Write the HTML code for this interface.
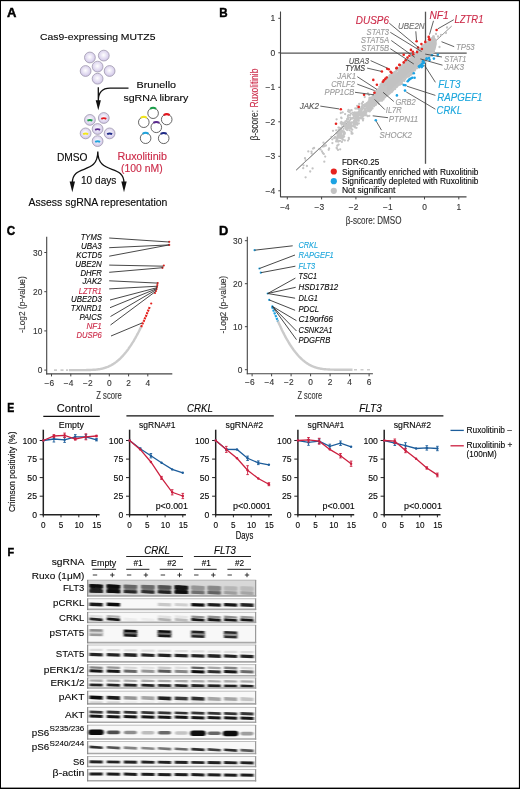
<!DOCTYPE html>
<html><head><meta charset="utf-8"><style>
html,body{margin:0;padding:0;background:#fff;}
body{width:520px;height:789px;overflow:hidden;}
svg{display:block;will-change:transform;}
text{font-family:"Liberation Sans",sans-serif;stroke-width:0.12px;}
</style></head><body>
<svg width="520" height="789" viewBox="0 0 520 789">
<defs>
<radialGradient id="cell" cx="0.48" cy="0.45" r="0.55"><stop offset="0" stop-color="#ffffff"/><stop offset="0.75" stop-color="#dcd4ee"/><stop offset="1" stop-color="#cbc0e4"/></radialGradient>
<filter id="b1" x="-30%" y="-150%" width="160%" height="400%"><feGaussianBlur stdDeviation="0.9 0.7"/></filter>
</defs>
<rect x="0" y="0" width="520" height="789" fill="#fff"/>
<text x="7.0" y="17.0" font-size="12.6" fill="#000" stroke="#000" style="stroke-width:0.45px" font-weight="bold" textLength="9.4" lengthAdjust="spacingAndGlyphs">A</text>
<text x="40.0" y="40.2" font-size="9.8" stroke="#222" textLength="115.5" lengthAdjust="spacingAndGlyphs">Cas9-expressing MUTZ5</text>
<circle cx="89.9" cy="57.5" r="5.4" fill="url(#cell)" stroke="#9f99ad" stroke-width="0.8"/>
<circle cx="103.8" cy="55.6" r="5.4" fill="url(#cell)" stroke="#9f99ad" stroke-width="0.8"/>
<circle cx="97.6" cy="66.6" r="5.4" fill="url(#cell)" stroke="#9f99ad" stroke-width="0.8"/>
<circle cx="85.6" cy="71" r="5.4" fill="url(#cell)" stroke="#9f99ad" stroke-width="0.8"/>
<circle cx="109.6" cy="71" r="5.4" fill="url(#cell)" stroke="#9f99ad" stroke-width="0.8"/>
<circle cx="97.6" cy="78.7" r="5.4" fill="url(#cell)" stroke="#9f99ad" stroke-width="0.8"/>
<circle cx="89.9" cy="119.9" r="5.4" fill="url(#cell)" stroke="#9f99ad" stroke-width="0.8"/>
<path d="M87.4,120.7 Q89.9,119.4 92.4,120.7" stroke="#1a9e48" stroke-width="1.9" fill="none" stroke-linecap="butt"/>
<circle cx="103.8" cy="118.0" r="5.4" fill="url(#cell)" stroke="#9f99ad" stroke-width="0.8"/>
<path d="M101.3,118.8 Q103.8,117.5 106.3,118.8" stroke="#e3161e" stroke-width="1.9" fill="none" stroke-linecap="butt"/>
<circle cx="97.6" cy="129.0" r="5.4" fill="url(#cell)" stroke="#9f99ad" stroke-width="0.8"/>
<path d="M95.1,129.8 Q97.6,128.5 100.1,129.8" stroke="#5b2a8e" stroke-width="1.9" fill="none" stroke-linecap="butt"/>
<circle cx="85.6" cy="133.4" r="5.4" fill="url(#cell)" stroke="#9f99ad" stroke-width="0.8"/>
<path d="M83.1,134.2 Q85.6,132.9 88.1,134.2" stroke="#f2e51a" stroke-width="1.9" fill="none" stroke-linecap="butt"/>
<circle cx="109.6" cy="133.4" r="5.4" fill="url(#cell)" stroke="#9f99ad" stroke-width="0.8"/>
<path d="M107.1,134.2 Q109.6,132.9 112.1,134.2" stroke="#1f2a88" stroke-width="1.9" fill="none" stroke-linecap="butt"/>
<circle cx="97.6" cy="141.1" r="5.4" fill="url(#cell)" stroke="#9f99ad" stroke-width="0.8"/>
<path d="M95.1,141.9 Q97.6,140.6 100.1,141.9" stroke="#1fa3dc" stroke-width="1.9" fill="none" stroke-linecap="butt"/>
<path d="M98.3,87.3 L98.3,102 M128.5,88.1 L110,88.1 C102,88.1 98.3,92 98.3,101" stroke="#111" stroke-width="1.3" fill="none"/>
<polygon points="95.7,100.2 100.9,100.2 98.3,110.3" fill="#111"/>
<text x="136.6" y="88.4" font-size="9.8" stroke="#222" textLength="39.5" lengthAdjust="spacingAndGlyphs">Brunello</text>
<text x="123.4" y="100.8" font-size="9.8" stroke="#222" textLength="65.0" lengthAdjust="spacingAndGlyphs">sgRNA library</text>
<circle cx="153.1" cy="113.2" r="5.3" fill="#fff" stroke="#4a4a4a" stroke-width="0.85"/>
<path d="M150.14,108.81 A5.3,5.3 0 0 1 156.06,108.81" stroke="#1a9e48" stroke-width="2" fill="none"/>
<circle cx="166.7" cy="119.5" r="5.3" fill="#fff" stroke="#4a4a4a" stroke-width="0.85"/>
<path d="M163.74,115.11 A5.3,5.3 0 0 1 169.66,115.11" stroke="#e3161e" stroke-width="2" fill="none"/>
<circle cx="143.8" cy="122.2" r="5.3" fill="#fff" stroke="#4a4a4a" stroke-width="0.85"/>
<path d="M140.84,117.81 A5.3,5.3 0 0 1 146.76,117.81" stroke="#f2e51a" stroke-width="2" fill="none"/>
<circle cx="156.3" cy="127.3" r="5.3" fill="#fff" stroke="#4a4a4a" stroke-width="0.85"/>
<path d="M153.34,122.91 A5.3,5.3 0 0 1 159.26,122.91" stroke="#5b2a8e" stroke-width="2" fill="none"/>
<circle cx="145.6" cy="138.2" r="5.3" fill="#fff" stroke="#4a4a4a" stroke-width="0.85"/>
<path d="M142.64,133.81 A5.3,5.3 0 0 1 148.56,133.81" stroke="#1fa3dc" stroke-width="2" fill="none"/>
<circle cx="163.7" cy="138.3" r="5.3" fill="#fff" stroke="#4a4a4a" stroke-width="0.85"/>
<path d="M160.74,133.91 A5.3,5.3 0 0 1 166.66,133.91" stroke="#1f2a88" stroke-width="2" fill="none"/>
<text x="56.9" y="161.2" font-size="10" stroke="#222" textLength="30.6" lengthAdjust="spacingAndGlyphs">DMSO</text>
<text x="117.4" y="159.6" font-size="10" fill="#cc2a48" stroke="#cc2a48" textLength="49.6" lengthAdjust="spacingAndGlyphs">Ruxolitinib</text>
<text x="121.0" y="171.5" font-size="10" fill="#cc2a48" stroke="#cc2a48" textLength="41.6" lengthAdjust="spacingAndGlyphs">(100 nM)</text>
<path d="M97.8,151.5 C97.8,176 72.3,163 72.3,183 M97.8,151.5 C97.8,176 124,163 124,183" stroke="#111" stroke-width="1.3" fill="none"/>
<polygon points="69.6,181.5 75.0,181.5 72.3,192.3" fill="#111"/>
<polygon points="121.3,181.5 126.7,181.5 124,192.3" fill="#111"/>
<text x="81.0" y="183.8" font-size="10" stroke="#222" textLength="35.4" lengthAdjust="spacingAndGlyphs">10 days</text>
<text x="28.6" y="205.9" font-size="10" stroke="#222" textLength="138.8" lengthAdjust="spacingAndGlyphs">Assess sgRNA representation</text>
<text x="219.2" y="16.5" font-size="12.6" fill="#000" stroke="#000" style="stroke-width:0.45px" font-weight="bold" textLength="8.4" lengthAdjust="spacingAndGlyphs">B</text>
<line x1="280.5" y1="53.1" x2="466.7" y2="53.1" stroke="#555" stroke-width="1.3"/>
<line x1="425.5" y1="11.7" x2="425.5" y2="163.8" stroke="#555" stroke-width="1.3"/>
<line x1="296.2" y1="170.1" x2="451.7" y2="26.1" stroke="#888" stroke-width="0.9"/>
<polygon points="368.0,102.6 369.6,101.3 371.2,98.6 372.8,96.1 374.4,94.8 376.0,91.9 377.6,89.9 379.2,88.8 380.8,87.3 382.4,84.9 384.0,82.3 385.6,81.5 387.2,79.6 388.8,77.9 390.4,77.2 392.0,75.9 393.6,74.5 395.2,73.0 396.8,72.5 398.4,70.8 400.0,68.6 401.6,67.1 403.2,66.4 404.8,65.0 406.4,63.7 408.0,60.7 409.6,60.6 411.2,59.3 412.8,56.3 414.4,56.0 416.0,53.4 417.6,53.3 419.2,50.4 420.8,48.9 422.4,48.6 424.0,46.7 425.6,44.6 427.2,43.0 428.8,41.5 430.4,40.2 432.0,39.9 434.5,37.6 436.6,39.5 436.8,44.0 435.5,49.5 434.0,52.0 432.0,53.6 430.4,54.3 428.8,56.0 427.2,57.8 425.6,59.5 424.0,60.5 422.4,61.6 420.8,62.9 419.2,64.6 417.6,67.0 416.0,67.8 414.4,69.1 412.8,71.2 411.2,72.3 409.6,74.0 408.0,75.2 406.4,77.9 404.8,78.9 403.2,80.6 401.6,81.7 400.0,83.7 398.4,86.0 396.8,88.1 395.2,88.5 393.6,90.7 392.0,92.3 390.4,94.2 388.8,95.1 387.2,96.4 385.6,97.7 384.0,99.1 382.4,100.0 380.8,101.4 379.2,100.9 377.6,103.0 376.0,103.2 374.4,104.9 372.8,105.4 371.2,106.5 369.6,107.3 368.0,108.4" fill="#c2c2c2"/>
<path d="M388.1 79.6h0M424.4 45.7h0M370.8 99.5h0M419.0 65.5h0M422.8 61.6h0M406.5 63.3h0M369.0 106.0h0M431.3 54.1h0M422.9 47.7h0M378.2 89.8h0M422.0 49.0h0M409.5 60.0h0M413.3 71.1h0M395.8 72.0h0M375.2 101.5h0M385.0 97.3h0M387.4 77.5h0M376.3 102.1h0M404.9 64.4h0M381.5 83.7h0M372.6 103.4h0M379.6 98.9h0M403.0 66.1h0M397.7 84.6h0M411.4 56.6h0M399.3 84.3h0M414.3 54.6h0M399.8 82.7h0M389.0 77.7h0M416.6 53.3h0M420.4 64.5h0M427.5 58.2h0M430.3 40.3h0M409.2 74.9h0M393.0 75.2h0M410.2 73.1h0M426.1 59.6h0M406.3 77.7h0M398.5 69.4h0M388.5 79.4h0M399.7 69.2h0M419.5 64.4h0M384.9 82.2h0M408.4 61.2h0M417.7 66.5h0M426.9 58.4h0M394.7 87.3h0M421.2 48.6h0M426.1 58.6h0M381.9 83.2h0M400.8 68.1h0M386.3 78.6h0M375.4 101.4h0M395.3 87.2h0M412.4 71.8h0M386.4 79.3h0M412.8 71.4h0M420.2 50.2h0M410.3 73.0h0M422.8 48.3h0M419.4 50.8h0M375.2 101.5h0M431.3 40.0h0M379.8 87.1h0M417.8 52.5h0M390.8 76.6h0M394.0 72.4h0M415.7 53.5h0M397.7 69.6h0M392.9 90.4h0M398.6 68.8h0M420.7 48.9h0M382.1 100.7h0M403.4 79.5h0M385.3 82.0h0M397.1 85.2h0M418.7 65.7h0M425.3 59.2h0M420.8 48.4h0M428.5 56.2h0M377.8 101.1h0M430.6 40.5h0M418.0 66.5h0M416.1 54.4h0M402.5 80.4h0M423.8 46.3h0M388.1 78.4h0M405.8 63.8h0M395.1 72.1h0M369.8 100.9h0M402.1 83.9h0M376.0 92.1h0M413.6 55.7h0M428.8 56.1h0M385.8 95.8h0M427.5 56.8h0M402.6 66.4h0M429.1 40.9h0M414.3 55.5h0M368.8 105.4h0M389.3 91.7h0M401.0 67.2h0M424.2 60.2h0M426.0 43.5h0M392.8 89.3h0M403.5 64.8h0M403.0 66.5h0M421.5 47.6h0M388.8 92.6h0M419.4 51.0h0M426.6 44.3h0M373.8 102.6h0M374.4 103.7h0M381.2 86.1h0M374.3 104.6h0M375.6 102.8h0M401.2 68.0h0M369.6 106.0h0M377.7 90.5h0M378.4 99.9h0M429.2 41.8h0M412.9 57.2h0M418.5 66.1h0M391.4 76.2h0M407.7 62.2h0M381.2 98.1h0M398.0 84.7h0M378.9 89.1h0M389.4 78.2h0M424.8 61.0h0M405.6 60.9h0M421.1 62.8h0M386.4 81.2h0M421.8 64.1h0M376.8 101.8h0M418.6 50.9h0M394.8 73.1h0M398.9 70.0h0M426.6 44.4h0M412.0 74.1h0M382.3 98.6h0M393.7 88.4h0M410.4 59.6h0M369.5 98.0h0M416.8 68.1h0M418.2 65.8h0M368.7 105.3h0M404.3 80.9h0M431.8 38.5h0M373.0 95.2h0M393.5 72.8h0M424.5 44.7h0M396.4 86.8h0M407.5 76.1h0M403.0 80.4h0M386.7 95.1h0M369.8 99.5h0M395.0 87.5h0M371.5 103.6h0M433.3 51.8h0M372.9 95.9h0M432.2 39.0h0M371.0 97.7h0M398.9 69.7h0M407.8 61.0h0M375.8 93.0h0M391.5 75.9h0M412.1 72.0h0M407.7 76.5h0M421.8 47.7h0M430.9 40.8h0M426.9 57.9h0M386.1 80.2h0M380.5 86.0h0M401.1 68.2h0M372.0 103.5h0M385.1 82.0h0M403.7 65.6h0M417.9 51.3h0M392.6 89.3h0M391.4 90.9h0M423.3 46.2h0M420.9 63.4h0M418.7 50.5h0M397.3 85.2h0M378.1 100.1h0M387.2 79.6h0M374.4 102.4h0M373.2 95.3h0M421.8 62.7h0M387.7 79.5h0M411.7 58.2h0M413.9 69.7h0M386.7 79.3h0M382.4 97.6h0M414.8 69.0h0M396.9 85.8h0M431.9 39.6h0M373.6 104.2h0M406.6 63.1h0M416.8 67.2h0M423.2 46.5h0M379.7 99.4h0M369.5 100.7h0M403.9 80.4h0M421.1 49.5h0M406.4 76.5h0M373.4 95.9h0M427.3 42.4h0M374.4 102.1h0M384.2 80.6h0M390.3 90.9h0M394.0 87.9h0M377.0 101.3h0M403.5 65.6h0M395.1 89.1h0M424.3 60.9h0M431.2 38.3h0M402.6 66.7h0M395.8 72.0h0M384.2 82.1h0M379.1 89.2h0M393.7 88.2h0M399.1 67.8h0M388.0 79.8h0M372.1 104.0h0M369.1 105.3h0M375.2 94.0h0M391.7 75.6h0M401.6 81.6h0M380.2 100.6h0M429.9 56.1h0M424.3 61.7h0M390.6 76.0h0M399.9 69.0h0M376.9 100.9h0M432.4 52.3h0M429.0 42.1h0M425.7 59.3h0M395.8 72.9h0M395.4 87.9h0M421.5 47.5h0M410.0 73.4h0M405.7 64.1h0M368.1 102.9h0M385.8 81.4h0M426.7 59.2h0M403.9 79.7h0M369.3 99.3h0M374.0 103.4h0M381.8 98.3h0M422.9 61.1h0M388.9 92.9h0M398.8 70.1h0M391.7 75.7h0M398.5 70.1h0M411.2 57.9h0M399.4 84.3h0M405.2 77.8h0M423.7 45.1h0M427.5 43.6h0M403.6 80.1h0M431.0 54.0h0M380.5 98.4h0M416.3 67.5h0M399.0 84.1h0M397.5 85.0h0M374.2 95.0h0M379.9 99.9h0M414.5 55.8h0M383.0 83.3h0M418.9 64.8h0M428.8 56.2h0M381.6 85.9h0M422.2 64.4h0M409.1 74.1h0M408.5 76.5h0M411.6 58.5h0M385.2 81.4h0M375.0 103.0h0M381.5 98.2h0M408.4 59.6h0M384.8 96.6h0M401.0 68.2h0M405.9 62.6h0M415.2 55.2h0M405.4 63.9h0M373.5 95.7h0M399.5 83.1h0M429.3 56.1h0M385.6 80.2h0M383.7 83.0h0M405.0 78.6h0M427.2 58.7h0M407.7 62.3h0M413.2 70.1h0M383.9 96.8h0M404.2 65.0h0M398.0 85.6h0M430.0 38.4h0M388.3 93.8h0M418.4 51.3h0M381.2 99.3h0M375.8 101.3h0M379.5 88.7h0M389.9 76.7h0M415.6 53.8h0M374.8 102.5h0M395.2 86.5h0M433.6 52.4h0M422.5 46.2h0M402.7 80.8h0M395.7 73.0h0M415.9 67.9h0M416.3 67.2h0M407.2 61.8h0M384.1 96.2h0M432.2 54.8h0M413.9 54.9h0M430.1 41.1h0M434.0 51.6h0M421.1 48.9h0M410.9 74.6h0M374.5 94.0h0M376.2 101.7h0M387.8 93.0h0M379.4 100.6h0M394.2 88.7h0M413.7 56.5h0M427.3 57.0h0M389.4 75.7h0M399.2 68.9h0M381.4 85.7h0M391.4 92.0h0M369.1 101.0h0M430.7 40.8h0M410.9 72.3h0M427.4 57.8h0M415.1 54.0h0M419.4 66.9h0M373.2 96.3h0M413.6 70.1h0M379.9 87.2h0M386.0 81.6h0M406.9 60.5h0M379.9 87.8h0M386.3 81.0h0M428.5 42.9h0M403.0 65.1h0M403.5 79.2h0M421.0 48.1h0M380.5 84.4h0M386.4 80.3h0M433.2 36.3h0M409.0 76.4h0M372.0 98.2h0M404.7 78.5h0M370.1 105.7h0M401.4 66.5h0M375.4 102.4h0M383.5 97.5h0M415.3 55.0h0M385.1 81.5h0M385.2 81.0h0M407.4 60.4h0M379.9 87.2h0M408.1 75.2h0M415.7 53.6h0M372.8 95.8h0M420.2 50.1h0M409.1 60.9h0M388.7 92.4h0M418.5 67.0h0M379.3 100.1h0M384.4 96.7h0M419.9 48.9h0M388.8 92.6h0M432.1 39.1h0M376.5 91.7h0M417.2 52.5h0M368.2 106.1h0M393.9 88.0h0M399.1 68.5h0M415.3 54.9h0M387.5 79.5h0M398.5 70.6h0M392.0 91.8h0M382.4 84.3h0M394.6 74.1h0M428.2 41.7h0M398.5 84.4h0M393.0 75.3h0M382.2 97.4h0M421.1 64.8h0M381.4 84.7h0M399.2 84.1h0M433.6 37.8h0M393.3 74.7h0M371.1 104.5h0M369.2 101.0h0M416.9 68.1h0M382.4 84.6h0M391.8 76.3h0M377.0 89.8h0M415.7 53.8h0M393.4 75.1h0M424.4 60.6h0M402.3 65.6h0M387.9 79.2h0M401.9 67.7h0M370.1 105.6h0M413.8 70.2h0M388.7 92.5h0M381.5 98.3h0M403.3 80.2h0M425.2 45.5h0M374.8 102.1h0M370.7 99.2h0M417.3 68.2h0M432.4 53.1h0M411.6 58.0h0M413.5 56.6h0M431.0 53.6h0M373.9 103.8h0M375.9 102.1h0M389.7 91.7h0M414.4 55.4h0M399.4 69.0h0M391.1 75.3h0M427.9 43.3h0M399.6 83.1h0M414.2 54.8h0M427.6 43.6h0M394.7 73.8h0M392.9 89.5h0M384.7 82.6h0M370.3 105.5h0M385.3 81.3h0M410.4 74.9h0M391.9 74.6h0M418.9 51.0h0M395.4 87.1h0M372.5 103.9h0M428.0 42.6h0M421.1 63.1h0M432.5 38.2h0M408.0 75.2h0M383.5 82.1h0M429.1 56.7h0M424.0 47.1h0M409.2 73.8h0M369.3 101.1h0M413.9 54.4h0M378.5 99.9h0M421.1 63.3h0M417.4 66.8h0M383.6 82.5h0M428.6 41.5h0M425.9 44.4h0M388.5 94.6h0M401.8 82.2h0M395.2 86.9h0M371.5 105.2h0M413.8 70.7h0M415.3 69.4h0M380.1 86.6h0M423.6 46.4h0M414.7 69.2h0M420.9 49.6h0M387.3 79.0h0M432.3 54.7h0M432.0 38.2h0M385.7 96.2h0M394.2 73.7h0M371.2 98.6h0M391.5 76.3h0M394.7 72.9h0M379.3 86.9h0M388.4 92.7h0M394.9 72.0h0M432.7 52.2h0M386.7 80.4h0M397.2 69.6h0M426.1 58.9h0M375.9 101.7h0M405.5 77.8h0M409.3 73.9h0M381.3 98.3h0M404.9 62.6h0M388.4 78.6h0M368.3 109.6h0M381.3 98.2h0M400.0 83.3h0M404.8 63.8h0M404.3 78.8h0M425.1 61.8h0M405.7 64.1h0M379.1 88.9h0M412.5 71.9h0M388.5 93.9h0M368.7 101.3h0M418.6 65.4h0M421.5 64.1h0M422.6 47.2h0M429.8 56.1h0M384.5 81.9h0M368.6 102.3h0M392.4 90.1h0M421.5 63.2h0M388.6 78.5h0M427.7 57.3h0M382.1 85.1h0M381.9 84.0h0M379.7 88.0h0M378.3 100.3h0M368.6 101.4h0M394.6 89.2h0M418.3 51.8h0M426.1 59.5h0M406.2 77.2h0M396.4 70.6h0M426.6 57.6h0M372.6 103.9h0M380.1 98.8h0M402.7 66.0h0M393.0 74.3h0M382.0 99.2h0M409.5 59.2h0M376.0 102.1h0M423.2 47.4h0M392.8 75.5h0M409.4 73.6h0M386.8 78.7h0M378.0 101.2h0M389.7 91.4h0M416.6 67.9h0M371.5 98.8h0M375.3 91.4h0M423.5 46.7h0M401.8 82.6h0M372.3 97.6h0M421.3 63.4h0M381.7 85.6h0M386.5 80.7h0M372.9 103.1h0M384.0 97.7h0M424.4 46.6h0M392.1 75.7h0M390.0 91.8h0M387.0 93.8h0M380.0 100.3h0M398.7 83.8h0M372.7 96.2h0M431.2 40.3h0M405.0 79.3h0M414.2 70.6h0M411.4 58.6h0M376.4 101.4h0M370.7 106.2h0M408.3 76.5h0M388.3 77.9h0M416.6 66.9h0M425.4 58.8h0M385.5 95.3h0M422.1 61.8h0M376.2 92.3h0M390.9 90.4h0M386.8 95.4h0M430.8 40.2h0M429.6 55.9h0M381.1 99.0h0M372.2 103.9h0M390.0 91.5h0M411.7 57.9h0M412.4 56.9h0M407.2 75.8h0M393.6 89.1h0M424.1 45.2h0M404.0 65.0h0M420.1 50.5h0M392.7 90.8h0M425.6 45.5h0M399.0 83.9h0M399.7 68.6h0M432.0 38.5h0M422.7 48.4h0M433.8 36.3h0M420.2 50.8h0M402.2 65.2h0M402.0 67.6h0M417.0 50.7h0M413.9 69.4h0M411.8 71.5h0M398.9 69.8h0M392.5 91.3h0M369.6 105.6h0M395.3 73.6h0M433.9 37.4h0M372.5 97.2h0M401.8 81.0h0M391.3 77.1h0M371.6 97.5h0M406.9 61.9h0M424.1 46.6h0M421.4 48.6h0M379.5 87.6h0M395.3 73.3h0M375.2 103.5h0M378.3 89.1h0M428.2 42.5h0M393.7 88.6h0M375.4 101.7h0M389.7 92.4h0M405.0 61.3h0M405.5 63.6h0M416.8 67.3h0M382.5 83.8h0M391.7 90.2h0M390.0 76.0h0M372.1 104.0h0M404.1 79.2h0M415.1 53.9h0M388.8 93.5h0M402.8 66.5h0M392.6 74.3h0M431.4 53.2h0M431.6 53.4h0M418.3 51.8h0M388.8 93.5h0M390.7 76.2h0M382.1 98.4h0M410.7 75.0h0M394.6 87.5h0M394.2 74.3h0M422.9 61.7h0M378.3 99.7h0M410.4 58.5h0M394.1 74.7h0M404.4 78.3h0M429.7 41.7h0M406.3 63.1h0M390.1 76.9h0M379.4 87.0h0M392.9 89.2h0M412.7 55.3h0M416.0 53.7h0M431.1 54.1h0M375.5 92.5h0M394.2 73.8h0M395.4 73.1h0M423.4 47.2h0M394.9 87.5h0M429.4 40.9h0M400.6 84.2h0M401.8 82.2h0M379.0 100.3h0M381.3 98.6h0M392.9 90.1h0M397.9 85.2h0M399.7 83.8h0M389.6 91.4h0M416.2 53.5h0M385.0 82.3h0M384.1 82.5h0M396.6 69.5h0M428.0 57.4h0M393.5 74.9h0M374.8 103.7h0M401.0 66.7h0M405.5 77.6h0M390.0 75.2h0M391.5 90.7h0M374.4 94.9h0M403.3 80.0h0M376.0 90.9h0M429.0 56.6h0M392.0 91.0h0M432.8 37.6h0M384.4 81.9h0M412.1 73.3h0M384.7 82.8h0M369.9 105.0h0M430.3 40.9h0M424.7 46.0h0M408.2 60.1h0M428.7 56.0h0M388.2 93.6h0M420.0 50.5h0M399.7 83.0h0M410.2 73.5h0M405.4 77.7h0M404.3 65.2h0M388.0 78.7h0M375.9 101.9h0M388.4 77.9h0M372.5 96.9h0M395.3 71.8h0M424.5 46.6h0M396.8 70.7h0M408.4 60.7h0M426.1 44.1h0M373.2 103.3h0M369.9 100.1h0M390.2 91.6h0M430.0 39.9h0M369.3 107.1h0M420.5 63.7h0M402.3 67.2h0M375.2 103.4h0M369.6 99.0h0M377.8 90.3h0M406.3 62.3h0M368.0 102.4h0M394.1 74.4h0M394.9 87.0h0M427.3 42.9h0M385.3 96.2h0M412.5 70.8h0M411.0 72.4h0M384.7 96.2h0M382.6 97.8h0M408.3 76.3h0M405.8 63.7h0M387.9 93.6h0M416.8 52.9h0M403.6 64.2h0M413.2 56.9h0M404.8 64.9h0M392.5 89.3h0M423.1 47.8h0M395.7 72.2h0M393.0 90.2h0M405.1 62.6h0M368.9 105.5h0M370.2 99.9h0M372.5 97.3h0M426.0 44.4h0M429.4 41.7h0M421.0 63.5h0M377.0 91.7h0M426.2 59.2h0M429.0 41.1h0M430.0 39.7h0M412.6 57.6h0M388.3 78.9h0M402.5 80.5h0M418.3 65.7h0M382.7 84.7h0M428.8 42.1h0M405.5 78.1h0M399.9 84.8h0M400.2 65.9h0M380.6 98.5h0M418.3 65.3h0M403.9 79.1h0M416.6 53.4h0M431.4 39.9h0M400.9 66.5h0M398.7 70.2h0M432.1 53.0h0M385.2 95.5h0M417.0 52.8h0M391.5 91.1h0M384.9 96.1h0M383.4 82.5h0M428.7 42.5h0M429.6 54.9h0M378.4 101.1h0M386.7 81.0h0M399.6 69.7h0M400.8 82.2h0M394.5 88.8h0M405.9 77.8h0M410.2 59.7h0M410.3 59.7h0M373.6 94.9h0M383.5 96.9h0M427.6 43.0h0M396.1 71.6h0M399.8 82.9h0M388.9 93.6h0M413.5 70.5h0M421.0 49.1h0M415.0 70.4h0M420.9 49.1h0M415.1 54.5h0M428.7 41.1h0M399.1 83.6h0M429.5 41.3h0M385.1 95.3h0M425.5 58.6h0M419.1 66.2h0M433.0 38.8h0M396.8 86.9h0M418.7 49.5h0M410.2 74.1h0M382.8 99.4h0M401.0 68.0h0M383.2 83.7h0M388.9 93.4h0M354.5 123.5h0M349.8 124.4h0M383.1 92.3h0M385.5 91.8h0M363.2 107.6h0M366.8 105.9h0M384.6 93.4h0M336.5 139.1h0M384.3 96.4h0M384.8 94.5h0M350.7 118.0h0M340.2 131.6h0M371.9 99.4h0M373.0 103.6h0M338.6 130.1h0M344.8 140.4h0M363.3 113.3h0M348.8 137.8h0M341.2 137.9h0M366.2 110.6h0M369.3 100.2h0M340.7 123.1h0M365.0 115.3h0M369.1 103.8h0M385.8 92.4h0M336.8 138.0h0M358.8 120.8h0M348.9 139.0h0M360.4 117.3h0M348.3 123.0h0M385.1 92.3h0M337.5 135.9h0M339.0 135.5h0M341.9 135.7h0M362.3 117.4h0M358.8 115.3h0M344.1 136.5h0M349.1 124.1h0M377.4 99.0h0M344.4 124.2h0M369.7 109.7h0M377.4 100.4h0M361.2 109.0h0M351.5 125.3h0M352.2 118.5h0M377.4 96.3h0M351.6 133.7h0M340.6 131.0h0M357.5 115.9h0M346.1 128.2h0M352.8 112.6h0M344.0 124.0h0M379.7 97.4h0M376.4 99.2h0M379.0 95.2h0M368.3 103.9h0M378.8 103.8h0M358.4 117.2h0M383.6 91.9h0M362.3 105.2h0M356.3 114.8h0M348.1 118.6h0M340.3 134.4h0M378.2 96.3h0M378.1 93.4h0M336.2 130.3h0M367.3 108.2h0M359.6 118.7h0M383.7 87.3h0M361.6 108.5h0M370.5 106.3h0M368.8 102.7h0M383.5 87.2h0M374.9 105.3h0M338.7 133.8h0M365.1 104.5h0M384.8 92.5h0M384.3 96.9h0M337.4 133.6h0M371.8 99.6h0M366.1 108.2h0M369.7 111.4h0M381.1 100.5h0M360.4 115.0h0M347.6 124.4h0M350.7 122.7h0M372.9 105.5h0M340.8 130.2h0M348.6 117.7h0M341.8 131.3h0M338.0 133.1h0M384.9 89.8h0M366.9 103.2h0M385.6 89.3h0M375.3 98.7h0M385.9 90.9h0M362.5 114.0h0M378.6 99.8h0M353.7 124.5h0M364.3 115.0h0M362.9 107.5h0M348.9 128.2h0M358.1 119.5h0M379.0 92.1h0M385.5 95.1h0M385.5 88.0h0M379.7 97.0h0M360.6 113.8h0M355.9 116.6h0M358.2 120.3h0M371.9 99.9h0M341.9 141.9h0M345.4 127.2h0M341.1 130.2h0M348.9 123.1h0M372.1 107.5h0M362.4 108.5h0M357.0 114.1h0M340.8 135.3h0M380.3 87.9h0M380.0 90.4h0M366.4 104.0h0M359.3 109.7h0M374.0 106.3h0M344.9 125.9h0M365.3 109.3h0M355.8 123.3h0M350.1 115.4h0M355.1 119.8h0M373.8 101.0h0M360.0 114.6h0M363.2 105.6h0M370.8 105.2h0M341.6 124.5h0M358.8 113.8h0M381.2 94.1h0M355.2 127.6h0M378.4 99.1h0M385.6 90.6h0M340.7 132.6h0M374.9 103.7h0M369.3 105.9h0M380.4 96.1h0M383.3 94.5h0M355.3 121.0h0M343.4 137.2h0M343.8 131.3h0M353.0 114.8h0M377.4 99.3h0M376.5 95.7h0M367.9 93.4h0M348.0 115.6h0M345.5 126.4h0M370.5 107.7h0M356.9 122.7h0M363.8 111.8h0M371.7 107.7h0M366.9 105.1h0M371.5 105.0h0M364.9 108.9h0M378.2 92.6h0M343.8 124.6h0M379.5 99.4h0M373.2 104.8h0M368.8 104.8h0M375.4 99.4h0M372.2 107.4h0M382.7 91.9h0M344.2 131.9h0M351.1 113.6h0M367.7 116.2h0M360.1 113.4h0M362.5 118.9h0M384.2 93.8h0M351.4 122.4h0M340.0 140.8h0M356.7 123.4h0M340.8 113.0h0M358.8 123.4h0M340.7 132.9h0M359.4 114.9h0M380.2 98.4h0M342.7 112.3h0M380.0 94.1h0M379.8 96.4h0M380.7 92.4h0M372.8 101.3h0M348.7 115.1h0M357.7 115.6h0M357.1 105.8h0M337.0 140.7h0M351.6 110.2h0M374.0 101.4h0M354.9 119.3h0M344.2 124.3h0M356.5 127.8h0M370.7 101.6h0M356.5 112.9h0M385.2 88.5h0M379.3 94.6h0M383.8 92.2h0M371.0 110.1h0M340.0 131.0h0M357.7 113.9h0M356.8 112.7h0M374.0 92.9h0M385.9 86.3h0M382.4 96.0h0M377.0 100.8h0M359.1 118.2h0M361.9 103.4h0M357.2 124.8h0M359.2 115.1h0M356.4 118.3h0M357.1 112.7h0M365.8 105.2h0M385.0 82.3h0M382.1 91.3h0M370.9 104.6h0M371.3 107.9h0M380.8 90.0h0M372.5 108.5h0M384.3 90.9h0M342.4 139.5h0M377.5 96.6h0M353.2 117.9h0M381.8 88.1h0M348.0 140.6h0M360.0 114.5h0M367.6 109.8h0M368.2 111.1h0M384.2 93.8h0M346.6 128.2h0M371.2 99.7h0M351.3 122.7h0M374.6 100.8h0M336.8 148.4h0M340.0 134.9h0M369.0 107.8h0M375.4 92.9h0M375.5 98.6h0M348.2 122.0h0M343.3 132.4h0M356.6 116.1h0M376.5 97.9h0M336.2 141.4h0M383.2 92.2h0M358.0 108.5h0M344.3 126.0h0M361.9 115.4h0M382.4 88.7h0M360.1 117.9h0M355.3 108.5h0M342.8 123.8h0M375.9 99.7h0M376.3 103.1h0M361.1 112.7h0M383.5 96.6h0M349.5 120.3h0M360.8 109.0h0M379.0 99.9h0M376.4 97.9h0M355.8 118.9h0M379.9 95.0h0M364.7 105.2h0M376.6 95.9h0M371.1 98.7h0M382.6 89.5h0M354.7 113.5h0M366.6 103.4h0M364.6 114.7h0M341.0 133.0h0M348.1 128.2h0M366.3 112.7h0M355.6 117.4h0M377.5 102.4h0M352.6 122.4h0M358.6 109.1h0M341.3 122.0h0M382.3 86.0h0M359.7 112.3h0M345.5 121.5h0M362.6 114.2h0M372.1 108.4h0M357.0 108.5h0M381.8 100.1h0M355.3 118.3h0M367.3 110.7h0M346.0 129.1h0M356.9 116.3h0M366.2 113.1h0M345.0 133.1h0M380.9 93.8h0M354.0 121.7h0M344.6 133.9h0M356.8 114.5h0M371.5 98.3h0M377.6 100.1h0M384.7 88.3h0M367.9 105.8h0M375.5 97.4h0M368.0 108.0h0M345.1 114.1h0M381.1 95.5h0M376.4 95.5h0M371.8 102.2h0M383.3 98.3h0M384.1 90.5h0M359.1 111.3h0M338.4 136.9h0M354.8 126.5h0M344.9 124.0h0M383.8 96.3h0M363.2 116.1h0M338.4 141.5h0M361.3 111.4h0M383.3 92.9h0M356.8 120.0h0M374.4 94.6h0M352.3 129.6h0M386.0 91.3h0M380.8 96.5h0M382.7 97.3h0M361.4 107.2h0M381.1 93.4h0M337.2 139.2h0M375.8 104.9h0M368.9 107.9h0M384.0 82.7h0M373.4 98.3h0M370.0 111.0h0M346.5 121.6h0M341.5 134.7h0M374.6 104.5h0M369.2 107.2h0M369.1 95.1h0M381.0 92.4h0M384.5 92.2h0M369.3 115.8h0M347.2 118.9h0M377.7 100.1h0M362.5 107.0h0M375.7 101.6h0M343.7 136.2h0M359.9 113.9h0M355.4 122.4h0M344.1 133.2h0M384.4 90.7h0M364.5 110.4h0M369.0 108.8h0M345.4 123.5h0M384.0 92.3h0M378.2 95.0h0M383.5 90.7h0M364.7 97.0h0M346.4 124.7h0M348.6 126.0h0M377.8 93.8h0M337.3 145.7h0M382.3 90.1h0M377.1 93.7h0M376.3 99.9h0M354.6 121.7h0M355.0 122.4h0M385.0 87.7h0M337.9 140.7h0M380.4 99.3h0M357.6 112.6h0M354.0 126.5h0M358.0 115.2h0M363.2 112.1h0M383.4 88.5h0M384.3 89.1h0M348.1 111.3h0M340.2 134.6h0M366.0 104.9h0M378.9 90.9h0M365.2 105.9h0M385.8 89.2h0M351.2 123.5h0M362.1 112.4h0M365.6 114.0h0M374.0 97.0h0M376.8 98.1h0M382.0 89.4h0M354.9 112.4h0M382.3 90.7h0M380.3 99.5h0M356.5 114.0h0M358.7 115.3h0M374.9 99.0h0M375.1 102.8h0M383.9 91.2h0M382.0 94.1h0M374.3 104.1h0M343.9 134.4h0M347.8 125.0h0M359.2 104.0h0M346.9 126.9h0M347.1 119.4h0M351.4 131.7h0M349.5 112.2h0M382.7 94.6h0M361.0 115.5h0M358.0 114.1h0M373.3 100.6h0M369.2 101.5h0M341.9 131.3h0M378.8 93.6h0M355.8 124.4h0M350.6 125.0h0M356.6 121.6h0M368.7 107.5h0M366.8 108.2h0M362.4 106.7h0M362.9 107.9h0M365.5 112.0h0M356.8 116.2h0M358.1 108.3h0M368.1 107.5h0M353.8 124.4h0M360.4 109.6h0M357.1 113.1h0M341.5 136.6h0M383.5 99.4h0M341.7 131.6h0M383.5 90.9h0M363.0 120.4h0M372.6 103.2h0M349.5 123.5h0M348.5 109.9h0M343.6 128.8h0M337.8 133.5h0M363.6 108.2h0M361.6 118.2h0M342.5 126.8h0M355.8 118.9h0M383.8 95.5h0M378.3 101.9h0M384.5 95.7h0M354.8 115.3h0M380.0 93.3h0M373.0 95.9h0M379.9 97.7h0M347.1 130.0h0M371.2 102.8h0M366.5 115.2h0M385.0 94.9h0M365.6 110.7h0M337.9 136.3h0M340.1 137.9h0M372.9 103.4h0M363.3 118.7h0M373.5 105.7h0M340.3 133.6h0M341.9 138.2h0M384.0 89.3h0M383.6 90.7h0M369.3 105.8h0M375.1 99.2h0M341.4 133.8h0M384.0 88.7h0M344.8 122.5h0M369.9 107.1h0M359.7 108.9h0M349.6 126.4h0M374.6 100.2h0M340.6 137.7h0M362.9 107.8h0M385.0 94.1h0M360.6 114.2h0M358.3 113.5h0M385.9 90.5h0M377.7 95.5h0M347.9 117.1h0M385.4 87.5h0M385.9 88.3h0M369.1 105.1h0M370.0 107.9h0M383.3 88.1h0M370.8 103.6h0M338.0 141.6h0M354.1 120.3h0M374.9 98.3h0M338.6 144.6h0M364.1 104.9h0M336.7 147.7h0M346.6 121.0h0M363.0 102.0h0M359.6 110.6h0M382.0 98.5h0M342.3 130.9h0M376.3 103.8h0M382.7 89.4h0M357.7 118.6h0M373.6 97.8h0M342.5 123.0h0M349.5 130.2h0M338.5 127.6h0M340.3 136.5h0M360.2 113.3h0M368.0 105.0h0M377.2 100.4h0M371.0 108.6h0M366.9 108.5h0M362.2 109.7h0M364.9 111.4h0M364.2 114.4h0M363.7 113.4h0M385.6 92.9h0M351.9 126.0h0M353.5 114.7h0M379.4 99.6h0M353.8 116.6h0M356.5 115.3h0M382.1 98.7h0M340.2 149.3h0M339.5 132.2h0M356.3 119.7h0M383.8 93.2h0M348.1 118.8h0M320.5 149.4h0M349.3 121.6h0M324.4 146.2h0M349.4 126.2h0M336.6 119.3h0M340.9 132.5h0M319.3 149.0h0M351.1 128.5h0M310.2 171.5h0M303.5 165.3h0M338.9 127.6h0M323.5 142.7h0M350.5 110.7h0M342.7 137.5h0M332.4 143.1h0M343.0 139.6h0M340.3 136.0h0M347.3 128.7h0M328.7 149.8h0M305.6 177.3h0M325.9 145.5h0M341.5 118.2h0M312.6 168.4h0M329.1 148.5h0M313.0 148.6h0M352.5 133.5h0M311.7 153.4h0M351.8 126.6h0M311.5 151.6h0M345.3 123.4h0M314.1 148.0h0M322.0 151.5h0M338.2 137.8h0M324.3 161.7h0M334.2 138.0h0M305.0 158.2h0M306.9 166.0h0M349.9 127.7h0M344.1 122.7h0M336.5 133.3h0M346.6 124.9h0M325.2 156.6h0M323.0 153.2h0M331.5 136.8h0M303.2 168.2h0M336.5 140.6h0M338.0 149.9h0M341.2 117.6h0M305.7 160.2h0M335.1 137.0h0M348.1 128.3h0M335.4 137.4h0M308.3 151.4h0M332.3 139.3h0M337.4 137.6h0M340.1 128.1h0M323.0 146.6h0M333.0 130.8h0M323.8 153.9h0M438.0 36.5h0M446.0 33.0h0M441.0 35.0h0M439.5 47.0h0M437.5 56.0h0M447.0 27.5h0M436.0 34.0h0" stroke="#c4c4c4" stroke-width="2.3" stroke-linecap="round" fill="none"/>
<line x1="296.2" y1="170.1" x2="344.0" y2="125.8" stroke="#8a8a8a" stroke-width="0.9"/>
<line x1="280.5" y1="11.5" x2="280.5" y2="197.2" stroke="#444" stroke-width="1.1"/>
<line x1="280.5" y1="196.9" x2="466.5" y2="196.9" stroke="#444" stroke-width="1.1"/>
<line x1="278.3" y1="18.3" x2="280.5" y2="18.3" stroke="#444" stroke-width="1"/>
<text x="275.2" y="21.3" font-size="8.5" text-anchor="end" fill="#333" stroke="#333">1</text>
<line x1="278.3" y1="52.8" x2="280.5" y2="52.8" stroke="#444" stroke-width="1"/>
<text x="275.2" y="55.8" font-size="8.5" text-anchor="end" fill="#333" stroke="#333">0</text>
<line x1="278.3" y1="87.3" x2="280.5" y2="87.3" stroke="#444" stroke-width="1"/>
<text x="275.2" y="90.3" font-size="8.5" text-anchor="end" fill="#333" stroke="#333">−1</text>
<line x1="278.3" y1="121.8" x2="280.5" y2="121.8" stroke="#444" stroke-width="1"/>
<text x="275.2" y="124.8" font-size="8.5" text-anchor="end" fill="#333" stroke="#333">−2</text>
<line x1="278.3" y1="156.3" x2="280.5" y2="156.3" stroke="#444" stroke-width="1"/>
<text x="275.2" y="159.3" font-size="8.5" text-anchor="end" fill="#333" stroke="#333">−3</text>
<line x1="278.3" y1="190.8" x2="280.5" y2="190.8" stroke="#444" stroke-width="1"/>
<text x="275.2" y="193.8" font-size="8.5" text-anchor="end" fill="#333" stroke="#333">−4</text>
<line x1="287.3" y1="196.9" x2="287.3" y2="199.4" stroke="#444" stroke-width="1"/>
<text x="285.0" y="209.7" font-size="8.4" text-anchor="middle" fill="#333" stroke="#333">−4</text>
<line x1="321.6" y1="196.9" x2="321.6" y2="199.4" stroke="#444" stroke-width="1"/>
<text x="319.3" y="209.7" font-size="8.4" text-anchor="middle" fill="#333" stroke="#333">−3</text>
<line x1="355.9" y1="196.9" x2="355.9" y2="199.4" stroke="#444" stroke-width="1"/>
<text x="353.6" y="209.7" font-size="8.4" text-anchor="middle" fill="#333" stroke="#333">−2</text>
<line x1="390.2" y1="196.9" x2="390.2" y2="199.4" stroke="#444" stroke-width="1"/>
<text x="387.9" y="209.7" font-size="8.4" text-anchor="middle" fill="#333" stroke="#333">−1</text>
<line x1="424.5" y1="196.9" x2="424.5" y2="199.4" stroke="#444" stroke-width="1"/>
<text x="424.5" y="209.7" font-size="8.4" text-anchor="middle" fill="#333" stroke="#333">0</text>
<line x1="458.8" y1="196.9" x2="458.8" y2="199.4" stroke="#444" stroke-width="1"/>
<text x="458.8" y="209.7" font-size="8.4" text-anchor="middle" fill="#333" stroke="#333">1</text>
<text x="345.7" y="224.4" font-size="10.3" fill="#333" stroke="#333" textLength="55.8" lengthAdjust="spacingAndGlyphs">β-score: DMSO</text>
<text x="258.2" y="140.6" font-size="10.4" fill="#333" stroke="#333" transform="rotate(-90 258.2 140.6)" textLength="72" lengthAdjust="spacingAndGlyphs">β-score: <tspan fill="#cc2a48" stroke="#cc2a48">Ruxolitinib</tspan></text>
<circle cx="333.8" cy="171.5" r="3.1" fill="#e5231f"/>
<circle cx="333.8" cy="181.2" r="3.1" fill="#1ca3e3"/>
<circle cx="333.8" cy="190.8" r="3.1" fill="#c3c3c3"/>
<text x="341.9" y="164.5" font-size="8.7" stroke="#222" textLength="37.3" lengthAdjust="spacingAndGlyphs">FDR&lt;0.25</text>
<text x="341.9" y="174.6" font-size="8.7" stroke="#222" textLength="136.6" lengthAdjust="spacingAndGlyphs">Significantly enriched with Ruxolitinib</text>
<text x="341.9" y="183.8" font-size="8.7" stroke="#222" textLength="136.6" lengthAdjust="spacingAndGlyphs">Significantly depleted with Ruxolitinib</text>
<text x="341.9" y="193.0" font-size="8.7" stroke="#222" textLength="53.6" lengthAdjust="spacingAndGlyphs">Not significant</text>
<circle cx="428.7" cy="36.9" r="1.3" fill="#e5231f"/>
<circle cx="429.1" cy="39.3" r="1.3" fill="#e5231f"/>
<circle cx="429.8" cy="39.8" r="1.3" fill="#e5231f"/>
<circle cx="436.6" cy="30.0" r="1.3" fill="#e5231f"/>
<circle cx="425.3" cy="41.9" r="1.3" fill="#e5231f"/>
<circle cx="421.4" cy="44.1" r="1.3" fill="#e5231f"/>
<circle cx="416.6" cy="41.3" r="1.3" fill="#e5231f"/>
<circle cx="418.1" cy="47.5" r="1.3" fill="#e5231f"/>
<circle cx="421.9" cy="49.0" r="1.3" fill="#e5231f"/>
<circle cx="417.1" cy="52.1" r="1.3" fill="#e5231f"/>
<circle cx="410.9" cy="49.9" r="1.3" fill="#e5231f"/>
<circle cx="412.8" cy="51.8" r="1.3" fill="#e5231f"/>
<circle cx="413.3" cy="54.2" r="1.3" fill="#e5231f"/>
<circle cx="409.4" cy="55.7" r="1.3" fill="#e5231f"/>
<circle cx="407.5" cy="57.6" r="1.3" fill="#e5231f"/>
<circle cx="403.7" cy="54.7" r="1.3" fill="#e5231f"/>
<circle cx="405.6" cy="60.2" r="1.3" fill="#e5231f"/>
<circle cx="403.7" cy="62.4" r="1.3" fill="#e5231f"/>
<circle cx="399.3" cy="64.8" r="1.3" fill="#e5231f"/>
<circle cx="396.4" cy="68.2" r="1.3" fill="#e5231f"/>
<circle cx="381.9" cy="71.5" r="1.3" fill="#e5231f"/>
<circle cx="387.2" cy="68.7" r="1.3" fill="#e5231f"/>
<circle cx="388.7" cy="69.3" r="1.3" fill="#e5231f"/>
<circle cx="390.6" cy="71.7" r="1.3" fill="#e5231f"/>
<circle cx="391.5" cy="72.7" r="1.3" fill="#e5231f"/>
<circle cx="396.8" cy="67.9" r="1.3" fill="#e5231f"/>
<circle cx="399.7" cy="65.0" r="1.3" fill="#e5231f"/>
<circle cx="373.3" cy="79.9" r="1.3" fill="#e5231f"/>
<circle cx="386.7" cy="77.5" r="1.3" fill="#e5231f"/>
<circle cx="385.3" cy="78.9" r="1.3" fill="#e5231f"/>
<circle cx="383.8" cy="80.4" r="1.3" fill="#e5231f"/>
<circle cx="382.9" cy="81.8" r="1.3" fill="#e5231f"/>
<circle cx="376.9" cy="84.7" r="1.3" fill="#e5231f"/>
<circle cx="374.5" cy="92.7" r="1.3" fill="#e5231f"/>
<circle cx="364.1" cy="94.8" r="1.3" fill="#e5231f"/>
<circle cx="358.7" cy="106.9" r="1.3" fill="#e5231f"/>
<circle cx="340.8" cy="109.3" r="1.3" fill="#e5231f"/>
<circle cx="336.0" cy="123.8" r="1.3" fill="#e5231f"/>
<circle cx="432.0" cy="55.2" r="1.3" fill="#1ca3e3"/>
<circle cx="437.8" cy="54.7" r="1.3" fill="#1ca3e3"/>
<circle cx="433.9" cy="58.6" r="1.3" fill="#1ca3e3"/>
<circle cx="426.7" cy="58.6" r="1.3" fill="#1ca3e3"/>
<circle cx="429.1" cy="58.1" r="1.3" fill="#1ca3e3"/>
<circle cx="429.6" cy="60.0" r="1.3" fill="#1ca3e3"/>
<circle cx="422.9" cy="61.4" r="1.3" fill="#1ca3e3"/>
<circle cx="423.8" cy="62.9" r="1.3" fill="#1ca3e3"/>
<circle cx="421.9" cy="63.8" r="1.3" fill="#1ca3e3"/>
<circle cx="421.0" cy="65.8" r="1.3" fill="#1ca3e3"/>
<circle cx="419.0" cy="66.3" r="1.3" fill="#1ca3e3"/>
<circle cx="422.9" cy="65.8" r="1.3" fill="#1ca3e3"/>
<circle cx="420.4" cy="65.2" r="1.3" fill="#1ca3e3"/>
<circle cx="419.4" cy="67.1" r="1.3" fill="#1ca3e3"/>
<circle cx="421.8" cy="67.1" r="1.3" fill="#1ca3e3"/>
<circle cx="426.6" cy="58.9" r="1.3" fill="#1ca3e3"/>
<circle cx="423.3" cy="61.3" r="1.3" fill="#1ca3e3"/>
<circle cx="413.8" cy="73.2" r="1.3" fill="#1ca3e3"/>
<circle cx="414.6" cy="77.7" r="1.3" fill="#1ca3e3"/>
<circle cx="412.3" cy="77.7" r="1.3" fill="#1ca3e3"/>
<circle cx="410.8" cy="78.5" r="1.3" fill="#1ca3e3"/>
<circle cx="409.6" cy="79.2" r="1.3" fill="#1ca3e3"/>
<circle cx="408.8" cy="80.0" r="1.3" fill="#1ca3e3"/>
<circle cx="407.7" cy="81.2" r="1.3" fill="#1ca3e3"/>
<circle cx="403.8" cy="85.0" r="1.3" fill="#1ca3e3"/>
<circle cx="405.4" cy="85.2" r="1.3" fill="#1ca3e3"/>
<circle cx="405.0" cy="90.6" r="1.3" fill="#1ca3e3"/>
<circle cx="396.9" cy="95.4" r="1.3" fill="#1ca3e3"/>
<circle cx="375.8" cy="120.2" r="1.3" fill="#1ca3e3"/>
<text x="355.8" y="24.2" font-size="10.2" fill="#cc2a48" stroke="#cc2a48" font-style="italic" textLength="33.2" lengthAdjust="spacingAndGlyphs">DUSP6</text>
<text x="429.5" y="18.8" font-size="10.2" fill="#cc2a48" stroke="#cc2a48" font-style="italic" textLength="19.2" lengthAdjust="spacingAndGlyphs">NF1</text>
<text x="454.6" y="23.4" font-size="10.5" fill="#cc2a48" stroke="#cc2a48" font-style="italic" textLength="28.8" lengthAdjust="spacingAndGlyphs">LZTR1</text>
<text x="398.0" y="29.0" font-size="8.5" fill="#707070" stroke="#707070" font-style="italic" textLength="26.6" lengthAdjust="spacingAndGlyphs">UBE2N</text>
<text x="366.6" y="35.0" font-size="8.5" fill="#9a9a9a" stroke="#9a9a9a" font-style="italic" textLength="22.5" lengthAdjust="spacingAndGlyphs">STAT3</text>
<text x="360.8" y="42.7" font-size="8.5" fill="#9a9a9a" stroke="#9a9a9a" font-style="italic" textLength="28.3" lengthAdjust="spacingAndGlyphs">STAT5A</text>
<text x="361.2" y="50.7" font-size="8.5" fill="#9a9a9a" stroke="#9a9a9a" font-style="italic" textLength="27.9" lengthAdjust="spacingAndGlyphs">STAT5B</text>
<text x="348.7" y="63.5" font-size="8.5" fill="#555" stroke="#555" font-style="italic" textLength="20.4" lengthAdjust="spacingAndGlyphs">UBA3</text>
<text x="345.2" y="70.6" font-size="8.5" fill="#333" stroke="#333" font-style="italic" textLength="19.9" lengthAdjust="spacingAndGlyphs">TYMS</text>
<text x="337.3" y="78.5" font-size="8.5" fill="#9a9a9a" stroke="#9a9a9a" font-style="italic" textLength="18.8" lengthAdjust="spacingAndGlyphs">JAK1</text>
<text x="331.2" y="86.6" font-size="8.5" fill="#9a9a9a" stroke="#9a9a9a" font-style="italic" textLength="23.6" lengthAdjust="spacingAndGlyphs">CRLF2</text>
<text x="324.6" y="95.3" font-size="8.5" fill="#9a9a9a" stroke="#9a9a9a" font-style="italic" textLength="29.8" lengthAdjust="spacingAndGlyphs">PPP1CB</text>
<text x="299.7" y="108.7" font-size="8.7" fill="#555" stroke="#555" font-style="italic" textLength="19.2" lengthAdjust="spacingAndGlyphs">JAK2</text>
<text x="395.4" y="105.2" font-size="8.5" fill="#9a9a9a" stroke="#9a9a9a" font-style="italic" textLength="20.4" lengthAdjust="spacingAndGlyphs">GRB2</text>
<text x="385.8" y="112.9" font-size="8.5" fill="#9a9a9a" stroke="#9a9a9a" font-style="italic" textLength="16.0" lengthAdjust="spacingAndGlyphs">IL7R</text>
<text x="388.7" y="121.5" font-size="8.5" fill="#9a9a9a" stroke="#9a9a9a" font-style="italic" textLength="29.6" lengthAdjust="spacingAndGlyphs">PTPN11</text>
<text x="379.6" y="137.5" font-size="8.5" fill="#9a9a9a" stroke="#9a9a9a" font-style="italic" textLength="32.4" lengthAdjust="spacingAndGlyphs">SHOCK2</text>
<text x="456.0" y="49.8" font-size="8.5" fill="#9a9a9a" stroke="#9a9a9a" font-style="italic" textLength="18.6" lengthAdjust="spacingAndGlyphs">TP53</text>
<text x="444.3" y="61.5" font-size="8.5" fill="#9a9a9a" stroke="#9a9a9a" font-style="italic" textLength="22.1" lengthAdjust="spacingAndGlyphs">STAT1</text>
<text x="444.3" y="70.3" font-size="8.5" fill="#9a9a9a" stroke="#9a9a9a" font-style="italic" textLength="19.7" lengthAdjust="spacingAndGlyphs">JAK3</text>
<text x="438.2" y="88.2" font-size="10.1" fill="#1ba6dc" stroke="#1ba6dc" font-style="italic" textLength="22.3" lengthAdjust="spacingAndGlyphs">FLT3</text>
<text x="437.2" y="101.1" font-size="10.1" fill="#1ba6dc" stroke="#1ba6dc" font-style="italic" textLength="45.3" lengthAdjust="spacingAndGlyphs">RAPGEF1</text>
<text x="436.6" y="113.8" font-size="10.1" fill="#1ba6dc" stroke="#1ba6dc" font-style="italic" textLength="25.4" lengthAdjust="spacingAndGlyphs">CRKL</text>
<line x1="389.3" y1="23.2" x2="418.7" y2="47.7" stroke="#3a3a3a" stroke-width="0.8"/>
<line x1="390.3" y1="32.3" x2="421.5" y2="51.5" stroke="#3a3a3a" stroke-width="0.8"/>
<line x1="391.3" y1="40.5" x2="414.8" y2="57.3" stroke="#3a3a3a" stroke-width="0.8"/>
<line x1="390.3" y1="48.7" x2="413.8" y2="64.0" stroke="#3a3a3a" stroke-width="0.8"/>
<line x1="415.8" y1="31.3" x2="416.5" y2="40.0" stroke="#3a3a3a" stroke-width="0.8"/>
<line x1="433.5" y1="20.8" x2="429.5" y2="34.6" stroke="#3a3a3a" stroke-width="0.8"/>
<line x1="453.8" y1="19.7" x2="437.7" y2="28.9" stroke="#3a3a3a" stroke-width="0.8"/>
<line x1="370.6" y1="60.6" x2="387.3" y2="68.1" stroke="#3a3a3a" stroke-width="0.8"/>
<line x1="367.1" y1="68.1" x2="381.0" y2="71.3" stroke="#3a3a3a" stroke-width="0.8"/>
<line x1="357.3" y1="76.7" x2="376.9" y2="89.4" stroke="#3a3a3a" stroke-width="0.8"/>
<line x1="357.3" y1="84.2" x2="374.6" y2="90.6" stroke="#3a3a3a" stroke-width="0.8"/>
<line x1="355.0" y1="92.3" x2="374.0" y2="94.8" stroke="#3a3a3a" stroke-width="0.8"/>
<line x1="320.3" y1="106.1" x2="339.0" y2="108.9" stroke="#3a3a3a" stroke-width="0.8"/>
<line x1="393.8" y1="101.5" x2="383.1" y2="92.3" stroke="#3a3a3a" stroke-width="0.8"/>
<line x1="384.8" y1="109.6" x2="374.6" y2="99.4" stroke="#3a3a3a" stroke-width="0.8"/>
<line x1="388.0" y1="117.7" x2="372.7" y2="115.8" stroke="#3a3a3a" stroke-width="0.8"/>
<line x1="381.5" y1="130.2" x2="376.2" y2="121.2" stroke="#3a3a3a" stroke-width="0.8"/>
<line x1="454.2" y1="46.7" x2="441.5" y2="41.7" stroke="#3a3a3a" stroke-width="0.8"/>
<line x1="442.0" y1="57.0" x2="425.2" y2="54.1" stroke="#3a3a3a" stroke-width="0.8"/>
<line x1="442.5" y1="65.2" x2="420.4" y2="58.9" stroke="#3a3a3a" stroke-width="0.8"/>
<line x1="435.4" y1="82.3" x2="424.6" y2="65.4" stroke="#3a3a3a" stroke-width="0.8"/>
<line x1="435.4" y1="95.4" x2="406.9" y2="86.2" stroke="#3a3a3a" stroke-width="0.8"/>
<line x1="435.4" y1="109.2" x2="406.2" y2="91.9" stroke="#3a3a3a" stroke-width="0.8"/>
<text x="6.7" y="234.5" font-size="12.6" fill="#000" stroke="#000" style="stroke-width:0.45px" font-weight="bold" textLength="8.4" lengthAdjust="spacingAndGlyphs">C</text>
<line x1="46.7" y1="236.8" x2="46.7" y2="374.4" stroke="#444" stroke-width="1.1"/>
<line x1="46.2" y1="373.9" x2="172.3" y2="373.9" stroke="#444" stroke-width="1.1"/>
<line x1="44.3" y1="370.1" x2="46.7" y2="370.1" stroke="#444" stroke-width="1"/>
<text x="42.4" y="373.1" font-size="8.4" text-anchor="end" fill="#333" stroke="#333">0</text>
<line x1="44.3" y1="330.9" x2="46.7" y2="330.9" stroke="#444" stroke-width="1"/>
<text x="42.4" y="333.9" font-size="8.4" text-anchor="end" fill="#333" stroke="#333">10</text>
<line x1="44.3" y1="291.7" x2="46.7" y2="291.7" stroke="#444" stroke-width="1"/>
<text x="42.4" y="294.7" font-size="8.4" text-anchor="end" fill="#333" stroke="#333">20</text>
<line x1="44.3" y1="252.5" x2="46.7" y2="252.5" stroke="#444" stroke-width="1"/>
<text x="42.4" y="255.5" font-size="8.4" text-anchor="end" fill="#333" stroke="#333">30</text>
<line x1="51.5" y1="373.9" x2="51.5" y2="376.4" stroke="#444" stroke-width="1"/>
<text x="49.3" y="385.6" font-size="8.4" text-anchor="middle" fill="#333" stroke="#333">−6</text>
<line x1="70.8" y1="373.9" x2="70.8" y2="376.4" stroke="#444" stroke-width="1"/>
<text x="68.6" y="385.6" font-size="8.4" text-anchor="middle" fill="#333" stroke="#333">−4</text>
<line x1="90.0" y1="373.9" x2="90.0" y2="376.4" stroke="#444" stroke-width="1"/>
<text x="87.8" y="385.6" font-size="8.4" text-anchor="middle" fill="#333" stroke="#333">−2</text>
<line x1="109.3" y1="373.9" x2="109.3" y2="376.4" stroke="#444" stroke-width="1"/>
<text x="109.3" y="385.6" font-size="8.4" text-anchor="middle" fill="#333" stroke="#333">0</text>
<line x1="128.6" y1="373.9" x2="128.6" y2="376.4" stroke="#444" stroke-width="1"/>
<text x="128.6" y="385.6" font-size="8.4" text-anchor="middle" fill="#333" stroke="#333">2</text>
<line x1="147.8" y1="373.9" x2="147.8" y2="376.4" stroke="#444" stroke-width="1"/>
<text x="147.8" y="385.6" font-size="8.4" text-anchor="middle" fill="#333" stroke="#333">4</text>
<text x="96.3" y="399.3" font-size="10.8" fill="#333" stroke="#333" textLength="25.5" lengthAdjust="spacingAndGlyphs">Z score</text>
<text x="25.3" y="304.5" font-size="9.6" text-anchor="middle" fill="#333" stroke="#333" textLength="56.5" lengthAdjust="spacingAndGlyphs" transform="rotate(-90 25.3 304.5)">-Log2 (p-value)</text>
<path d="M68.9,370.1 L69.3,370.1 L69.8,370.1 L70.3,370.1 L70.8,370.1 L71.3,370.1 L71.7,370.1 L72.2,370.1 L72.7,370.1 L73.2,370.1 L73.7,370.1 L74.2,370.1 L74.6,370.1 L75.1,370.1 L75.6,370.1 L76.1,370.1 L76.6,370.1 L77.0,370.1 L77.5,370.1 L78.0,370.1 L78.5,370.1 L79.0,370.1 L79.4,370.1 L79.9,370.1 L80.4,370.1 L80.9,370.1 L81.4,370.1 L81.9,370.1 L82.3,370.1 L82.8,370.1 L83.3,370.1 L83.8,370.1 L84.3,370.1 L84.7,370.1 L85.2,370.1 L85.7,370.1 L86.2,370.1 L86.7,370.0 L87.2,370.0 L87.6,370.0 L88.1,370.0 L88.6,370.0 L89.1,370.0 L89.6,370.0 L90.0,370.0 L90.5,370.0 L91.0,369.9 L91.5,369.9 L92.0,369.9 L92.4,369.9 L92.9,369.8 L93.4,369.8 L93.9,369.8 L94.4,369.7 L94.9,369.7 L95.3,369.7 L95.8,369.6 L96.3,369.6 L96.8,369.5 L97.3,369.5 L97.7,369.4 L98.2,369.3 L98.7,369.3 L99.2,369.2 L99.7,369.1 L100.2,369.0 L100.6,368.9 L101.1,368.9 L101.6,368.8 L102.1,368.6 L102.6,368.5 L103.0,368.4 L103.5,368.3 L104.0,368.2 L104.5,368.0 L105.0,367.9 L105.4,367.7 L105.9,367.5 L106.4,367.4 L106.9,367.2 L107.4,367.0 L107.9,366.8 L108.3,366.6 L108.8,366.4 L109.3,366.2 L109.8,365.9 L110.3,365.7 L110.7,365.5 L111.2,365.2 L111.7,364.9 L112.2,364.7 L112.7,364.4 L113.2,364.1 L113.6,363.8 L114.1,363.4 L114.6,363.1 L115.1,362.8 L115.6,362.4 L116.0,362.1 L116.5,361.7 L117.0,361.3 L117.5,360.9 L118.0,360.5 L118.4,360.1 L118.9,359.7 L119.4,359.3 L119.9,358.8 L120.4,358.3 L120.9,357.9 L121.3,357.4 L121.8,356.9 L122.3,356.4 L122.8,355.9 L123.3,355.3 L123.7,354.8 L124.2,354.2 L124.7,353.7 L125.2,353.1 L125.7,352.5 L126.2,351.9 L126.6,351.3 L127.1,350.7 L127.6,350.0 L128.1,349.4 L128.6,348.7 L129.0,348.0 L129.5,347.3 L130.0,346.6 L130.5,345.9 L131.0,345.2 L131.4,344.5 L131.9,343.7 L132.4,342.9 L132.9,342.2 L133.4,341.4 L133.9,340.6 L134.3,339.7 L134.8,338.9 L135.3,338.1 L135.8,337.2 L136.3,336.3 L136.7,335.5 L137.2,334.6 L137.7,333.7 L138.2,332.7 L138.7,331.8 L139.2,330.8 L139.6,329.9 L140.1,328.9 L140.6,327.9 L141.1,326.9 L141.6,325.9" stroke="#cbcbcb" stroke-width="2.4" fill="none"/>
<path d="M54,370.1 h3 M60.5,370.1 h3 M66,370.1 h2" stroke="#cbcbcb" stroke-width="1.6" fill="none"/>
<path d="M141.1,326.9 L141.6,325.9 L142.0,324.9 L142.5,323.8 L143.0,322.8 L143.5,321.7 L144.0,320.6 L144.4,319.5 L144.9,318.4 L145.4,317.3 L145.9,316.2 L146.4,315.0 L146.9,313.9 L147.3,312.7 L147.8,311.5 L148.3,310.3 L148.8,309.1 L149.3,307.9 L149.7,306.6" stroke="#e5231f" stroke-width="2.2" stroke-dasharray="2,0.8" fill="none"/>
<circle cx="169.2" cy="241.8" r="1.1" fill="#e5231f"/>
<circle cx="169.2" cy="244.9" r="1.1" fill="#e5231f"/>
<circle cx="163.8" cy="265.5" r="1.1" fill="#e5231f"/>
<circle cx="162.5" cy="267.8" r="1.1" fill="#e5231f"/>
<circle cx="157.7" cy="283.0" r="1.1" fill="#e5231f"/>
<circle cx="157.3" cy="285.0" r="1.1" fill="#e5231f"/>
<circle cx="157.0" cy="287.0" r="1.1" fill="#e5231f"/>
<circle cx="156.6" cy="289.0" r="1.1" fill="#e5231f"/>
<circle cx="156.0" cy="291.0" r="1.1" fill="#e5231f"/>
<circle cx="155.0" cy="293.0" r="1.1" fill="#e5231f"/>
<circle cx="151.2" cy="303.5" r="1.1" fill="#e5231f"/>
<text x="101.8" y="240.3" font-size="8.8" text-anchor="end" stroke="#222" font-style="italic" textLength="21.1" lengthAdjust="spacingAndGlyphs">TYMS</text>
<text x="101.8" y="249.0" font-size="8.8" text-anchor="end" stroke="#222" font-style="italic" textLength="20.8" lengthAdjust="spacingAndGlyphs">UBA3</text>
<text x="101.8" y="257.9" font-size="8.8" text-anchor="end" stroke="#222" font-style="italic" textLength="25.6" lengthAdjust="spacingAndGlyphs">KCTD5</text>
<text x="101.8" y="266.7" font-size="8.8" text-anchor="end" stroke="#222" font-style="italic" textLength="26.6" lengthAdjust="spacingAndGlyphs">UBE2N</text>
<text x="101.8" y="275.5" font-size="8.8" text-anchor="end" stroke="#222" font-style="italic" textLength="21.3" lengthAdjust="spacingAndGlyphs">DHFR</text>
<text x="101.8" y="284.4" font-size="8.8" text-anchor="end" stroke="#222" font-style="italic" textLength="19.2" lengthAdjust="spacingAndGlyphs">JAK2</text>
<text x="101.8" y="293.5" font-size="8.8" text-anchor="end" fill="#cc2a48" stroke="#cc2a48" font-style="italic" textLength="23.0" lengthAdjust="spacingAndGlyphs">LZTR1</text>
<text x="101.8" y="302.4" font-size="8.8" text-anchor="end" stroke="#222" font-style="italic" textLength="30.7" lengthAdjust="spacingAndGlyphs">UBE2D3</text>
<text x="101.8" y="311.0" font-size="8.8" text-anchor="end" stroke="#222" font-style="italic" textLength="31.1" lengthAdjust="spacingAndGlyphs">TXNRD1</text>
<text x="101.8" y="319.7" font-size="8.8" text-anchor="end" stroke="#222" font-style="italic" textLength="22.3" lengthAdjust="spacingAndGlyphs">PAICS</text>
<text x="101.8" y="328.9" font-size="8.8" text-anchor="end" fill="#cc2a48" stroke="#cc2a48" font-style="italic" textLength="15.3" lengthAdjust="spacingAndGlyphs">NF1</text>
<text x="101.8" y="337.7" font-size="8.8" text-anchor="end" fill="#cc2a48" stroke="#cc2a48" font-style="italic" textLength="25.3" lengthAdjust="spacingAndGlyphs">DUSP6</text>
<line x1="109.2" y1="238.0" x2="169.2" y2="242.0" stroke="#333" stroke-width="0.9"/>
<line x1="109.2" y1="247.7" x2="169.2" y2="244.9" stroke="#333" stroke-width="0.9"/>
<line x1="109.2" y1="256.2" x2="169.2" y2="244.9" stroke="#333" stroke-width="0.9"/>
<line x1="109.2" y1="265.1" x2="163.5" y2="266.2" stroke="#333" stroke-width="0.9"/>
<line x1="109.2" y1="272.3" x2="162.8" y2="267.7" stroke="#333" stroke-width="0.9"/>
<line x1="109.2" y1="280.8" x2="157.7" y2="283.1" stroke="#333" stroke-width="0.9"/>
<line x1="109.2" y1="288.9" x2="157.7" y2="286.2" stroke="#333" stroke-width="0.9"/>
<line x1="110.0" y1="300.0" x2="157.0" y2="287.7" stroke="#333" stroke-width="0.9"/>
<line x1="110.0" y1="307.7" x2="157.0" y2="288.5" stroke="#333" stroke-width="0.9"/>
<line x1="110.5" y1="316.5" x2="156.5" y2="289.5" stroke="#333" stroke-width="0.9"/>
<line x1="110.5" y1="325.0" x2="155.5" y2="291.5" stroke="#333" stroke-width="0.9"/>
<line x1="111.0" y1="336.0" x2="142.0" y2="323.0" stroke="#333" stroke-width="0.9"/>
<text x="219.0" y="234.8" font-size="12.6" fill="#000" stroke="#000" style="stroke-width:0.45px" font-weight="bold" textLength="9.3" lengthAdjust="spacingAndGlyphs">D</text>
<line x1="247.3" y1="236.7" x2="247.3" y2="374.3" stroke="#444" stroke-width="1.1"/>
<line x1="246.8" y1="373.8" x2="372.9" y2="373.8" stroke="#444" stroke-width="1.1"/>
<line x1="244.9" y1="369.7" x2="247.3" y2="369.7" stroke="#444" stroke-width="1"/>
<text x="242.4" y="372.7" font-size="8.4" text-anchor="end" fill="#333" stroke="#333">0</text>
<line x1="244.9" y1="326.7" x2="247.3" y2="326.7" stroke="#444" stroke-width="1"/>
<text x="242.4" y="329.7" font-size="8.4" text-anchor="end" fill="#333" stroke="#333">10</text>
<line x1="244.9" y1="283.7" x2="247.3" y2="283.7" stroke="#444" stroke-width="1"/>
<text x="242.4" y="286.7" font-size="8.4" text-anchor="end" fill="#333" stroke="#333">20</text>
<line x1="244.9" y1="240.7" x2="247.3" y2="240.7" stroke="#444" stroke-width="1"/>
<text x="242.4" y="243.7" font-size="8.4" text-anchor="end" fill="#333" stroke="#333">30</text>
<line x1="252.1" y1="373.8" x2="252.1" y2="376.3" stroke="#444" stroke-width="1"/>
<text x="249.9" y="385.4" font-size="8.4" text-anchor="middle" fill="#333" stroke="#333">−6</text>
<line x1="271.6" y1="373.8" x2="271.6" y2="376.3" stroke="#444" stroke-width="1"/>
<text x="269.4" y="385.4" font-size="8.4" text-anchor="middle" fill="#333" stroke="#333">−4</text>
<line x1="291.1" y1="373.8" x2="291.1" y2="376.3" stroke="#444" stroke-width="1"/>
<text x="288.9" y="385.4" font-size="8.4" text-anchor="middle" fill="#333" stroke="#333">−2</text>
<line x1="310.6" y1="373.8" x2="310.6" y2="376.3" stroke="#444" stroke-width="1"/>
<text x="310.6" y="385.4" font-size="8.4" text-anchor="middle" fill="#333" stroke="#333">0</text>
<line x1="330.1" y1="373.8" x2="330.1" y2="376.3" stroke="#444" stroke-width="1"/>
<text x="330.1" y="385.4" font-size="8.4" text-anchor="middle" fill="#333" stroke="#333">2</text>
<line x1="349.6" y1="373.8" x2="349.6" y2="376.3" stroke="#444" stroke-width="1"/>
<text x="349.6" y="385.4" font-size="8.4" text-anchor="middle" fill="#333" stroke="#333">4</text>
<line x1="369.1" y1="373.8" x2="369.1" y2="376.3" stroke="#444" stroke-width="1"/>
<text x="369.1" y="385.4" font-size="8.4" text-anchor="middle" fill="#333" stroke="#333">6</text>
<text x="297.4" y="399.1" font-size="10.8" fill="#333" stroke="#333" textLength="24.8" lengthAdjust="spacingAndGlyphs">Z score</text>
<text x="225.8" y="304.6" font-size="9.4" text-anchor="middle" fill="#333" stroke="#333" textLength="57.6" lengthAdjust="spacingAndGlyphs" transform="rotate(-90 225.8 304.6)">-Log2 (p-value)</text>
<path d="M277.5,320.1 L277.9,321.2 L278.4,322.3 L278.9,323.4 L279.4,324.5 L279.9,325.6 L280.4,326.6 L280.9,327.7 L281.4,328.7 L281.8,329.7 L282.3,330.7 L282.8,331.7 L283.3,332.7 L283.8,333.6 L284.3,334.6 L284.8,335.5 L285.2,336.4 L285.7,337.3 L286.2,338.2 L286.7,339.0 L287.2,339.9 L287.7,340.7 L288.2,341.6 L288.7,342.4 L289.1,343.2 L289.6,344.0 L290.1,344.7 L290.6,345.5 L291.1,346.2 L291.6,347.0 L292.1,347.7 L292.6,348.4 L293.0,349.1 L293.5,349.7 L294.0,350.4 L294.5,351.0 L295.0,351.7 L295.5,352.3 L296.0,352.9 L296.5,353.5 L296.9,354.1 L297.4,354.7 L297.9,355.2 L298.4,355.8 L298.9,356.3 L299.4,356.8 L299.9,357.3 L300.4,357.8 L300.8,358.3 L301.3,358.7 L301.8,359.2 L302.3,359.6 L302.8,360.1 L303.3,360.5 L303.8,360.9 L304.3,361.3 L304.8,361.7 L305.2,362.0 L305.7,362.4 L306.2,362.8 L306.7,363.1 L307.2,363.4 L307.7,363.7 L308.2,364.0 L308.6,364.3 L309.1,364.6 L309.6,364.9 L310.1,365.1 L310.6,365.4 L311.1,365.6 L311.6,365.9 L312.1,366.1 L312.6,366.3 L313.0,366.5 L313.5,366.7 L314.0,366.9 L314.5,367.1 L315.0,367.2 L315.5,367.4 L316.0,367.6 L316.4,367.7 L316.9,367.9 L317.4,368.0 L317.9,368.1 L318.4,368.2 L318.9,368.3 L319.4,368.4 L319.9,368.5 L320.3,368.6 L320.8,368.7 L321.3,368.8 L321.8,368.9 L322.3,368.9 L322.8,369.0 L323.3,369.1 L323.8,369.1 L324.2,369.2 L324.7,369.2 L325.2,369.3 L325.7,369.3 L326.2,369.4 L326.7,369.4 L327.2,369.4 L327.7,369.4 L328.1,369.5 L328.6,369.5 L329.1,369.5 L329.6,369.5 L330.1,369.6 L330.6,369.6 L331.1,369.6 L331.6,369.6 L332.1,369.6 L332.5,369.6 L333.0,369.6 L333.5,369.6 L334.0,369.6 L334.5,369.7 L335.0,369.7 L335.5,369.7 L335.9,369.7 L336.4,369.7 L336.9,369.7 L337.4,369.7 L337.9,369.7 L338.4,369.7 L338.9,369.7 L339.4,369.7 L339.8,369.7 L340.3,369.7 L340.8,369.7 L341.3,369.7 L341.8,369.7 L342.3,369.7 L342.8,369.7 L343.3,369.7 L343.7,369.7 L344.2,369.7 L344.7,369.7 L345.2,369.7 L345.7,369.7 L346.2,369.7 L346.7,369.7 L347.2,369.7 L347.6,369.7 L348.1,369.7 L348.6,369.7 L349.1,369.7 L349.6,369.7 L350.1,369.7 L350.6,369.7 L351.1,369.7 L351.5,369.7 L352.0,369.7 L352.5,369.7" stroke="#cbcbcb" stroke-width="2.4" fill="none"/>
<path d="M354,369.7 h3 M360.5,369.7 h3 M367,369.7 h3" stroke="#cbcbcb" stroke-width="1.6" fill="none"/>
<path d="M272.1,306.7 L272.6,308.0 L273.1,309.3 L273.6,310.6 L274.0,311.8 L274.5,313.0 L275.0,314.2 L275.5,315.4 L276.0,316.6 L276.5,317.8 L277.0,319.0 L277.4,320.1 L277.9,321.2" stroke="#1ca3e3" stroke-width="2.2" stroke-dasharray="2.2,0.8" fill="none"/>
<circle cx="254.6" cy="250.2" r="1.1" fill="#1ca3e3"/>
<circle cx="259.4" cy="268.5" r="1.1" fill="#1ca3e3"/>
<circle cx="260.8" cy="272.7" r="1.1" fill="#1ca3e3"/>
<circle cx="267.7" cy="293.5" r="1.1" fill="#1ca3e3"/>
<circle cx="269.2" cy="299.9" r="1.1" fill="#1ca3e3"/>
<circle cx="272.3" cy="306.3" r="1.1" fill="#1ca3e3"/>
<text x="298.5" y="247.5" font-size="9.0" fill="#1ba6dc" stroke="#1ba6dc" font-style="italic" textLength="19.6" lengthAdjust="spacingAndGlyphs">CRKL</text>
<text x="298.5" y="258.2" font-size="9.0" fill="#1ba6dc" stroke="#1ba6dc" font-style="italic" textLength="35.3" lengthAdjust="spacingAndGlyphs">RAPGEF1</text>
<text x="298.5" y="268.8" font-size="9.0" fill="#1ba6dc" stroke="#1ba6dc" font-style="italic" textLength="16.7" lengthAdjust="spacingAndGlyphs">FLT3</text>
<text x="298.5" y="279.4" font-size="9.0" stroke="#222" font-style="italic" textLength="18.5" lengthAdjust="spacingAndGlyphs">TSC1</text>
<text x="298.5" y="290.1" font-size="9.0" stroke="#222" font-style="italic" textLength="39.8" lengthAdjust="spacingAndGlyphs">HSD17B12</text>
<text x="298.5" y="300.8" font-size="9.0" stroke="#222" font-style="italic" textLength="19.5" lengthAdjust="spacingAndGlyphs">DLG1</text>
<text x="298.5" y="311.6" font-size="9.0" stroke="#222" font-style="italic" textLength="20.5" lengthAdjust="spacingAndGlyphs">PDCL</text>
<text x="298.5" y="322.2" font-size="9.0" stroke="#222" font-style="italic" textLength="34.5" lengthAdjust="spacingAndGlyphs">C19orf66</text>
<text x="298.5" y="332.7" font-size="9.0" stroke="#222" font-style="italic" textLength="34.0" lengthAdjust="spacingAndGlyphs">CSNK2A1</text>
<text x="298.5" y="343.4" font-size="9.0" stroke="#222" font-style="italic" textLength="31.8" lengthAdjust="spacingAndGlyphs">PDGFRB</text>
<line x1="254.6" y1="250.2" x2="292.7" y2="245.8" stroke="#333" stroke-width="0.9"/>
<line x1="259.4" y1="268.5" x2="295.0" y2="255.0" stroke="#333" stroke-width="0.9"/>
<line x1="260.8" y1="272.7" x2="295.4" y2="266.2" stroke="#333" stroke-width="0.9"/>
<line x1="267.7" y1="293.5" x2="295.4" y2="278.1" stroke="#333" stroke-width="0.9"/>
<line x1="267.7" y1="293.5" x2="295.7" y2="287.3" stroke="#333" stroke-width="0.9"/>
<line x1="267.7" y1="293.5" x2="295.1" y2="298.2" stroke="#333" stroke-width="0.9"/>
<line x1="269.2" y1="299.9" x2="295.1" y2="310.3" stroke="#333" stroke-width="0.9"/>
<line x1="272.3" y1="306.3" x2="296.5" y2="320.7" stroke="#333" stroke-width="0.9"/>
<line x1="272.3" y1="306.3" x2="296.5" y2="331.0" stroke="#333" stroke-width="0.9"/>
<line x1="272.3" y1="306.3" x2="296.5" y2="339.7" stroke="#333" stroke-width="0.9"/>
<text x="7.3" y="412.0" font-size="12.0" fill="#000" stroke="#000" style="stroke-width:0.45px" font-weight="bold" textLength="7.0" lengthAdjust="spacingAndGlyphs">E</text>
<text x="56.7" y="412.3" font-size="10.6" stroke="#222" textLength="35.8" lengthAdjust="spacingAndGlyphs">Control</text>
<line x1="43.3" y1="416.3" x2="99.8" y2="416.3" stroke="#111" stroke-width="1.3"/>
<text x="187.1" y="412.3" font-size="10.6" stroke="#222" font-style="italic" textLength="25.8" lengthAdjust="spacingAndGlyphs">CRKL</text>
<line x1="126.4" y1="415.8" x2="273.8" y2="415.8" stroke="#111" stroke-width="1.3"/>
<text x="359.2" y="412.3" font-size="10.6" stroke="#222" font-style="italic" textLength="22.6" lengthAdjust="spacingAndGlyphs">FLT3</text>
<line x1="295.0" y1="415.8" x2="443.4" y2="415.8" stroke="#111" stroke-width="1.3"/>
<text x="58.8" y="427.8" font-size="8.2" stroke="#222" textLength="25.1" lengthAdjust="spacingAndGlyphs">Empty</text>
<line x1="43.3" y1="429.7" x2="43.3" y2="515.4" stroke="#222" stroke-width="1.5"/>
<line x1="42.6" y1="514.7" x2="99.6" y2="514.7" stroke="#222" stroke-width="1.5"/>
<line x1="39.7" y1="514.7" x2="43.3" y2="514.7" stroke="#222" stroke-width="1"/>
<text x="37.0" y="517.7" font-size="8.4" text-anchor="end" stroke="#222" textLength="4.8" lengthAdjust="spacingAndGlyphs">0</text>
<line x1="39.7" y1="496.2" x2="43.3" y2="496.2" stroke="#222" stroke-width="1"/>
<text x="37.0" y="499.2" font-size="8.4" text-anchor="end" stroke="#222" textLength="9.7" lengthAdjust="spacingAndGlyphs">25</text>
<line x1="39.7" y1="477.6" x2="43.3" y2="477.6" stroke="#222" stroke-width="1"/>
<text x="37.0" y="480.6" font-size="8.4" text-anchor="end" stroke="#222" textLength="9.7" lengthAdjust="spacingAndGlyphs">50</text>
<line x1="39.7" y1="459.1" x2="43.3" y2="459.1" stroke="#222" stroke-width="1"/>
<text x="37.0" y="462.1" font-size="8.4" text-anchor="end" stroke="#222" textLength="9.7" lengthAdjust="spacingAndGlyphs">75</text>
<line x1="39.7" y1="440.5" x2="43.3" y2="440.5" stroke="#222" stroke-width="1"/>
<text x="37.0" y="443.5" font-size="8.4" text-anchor="end" stroke="#222" textLength="14.5" lengthAdjust="spacingAndGlyphs">100</text>
<line x1="43.3" y1="514.7" x2="43.3" y2="517.3" stroke="#222" stroke-width="1"/>
<text x="43.3" y="527.8" font-size="8.2" text-anchor="middle" stroke="#222">0</text>
<line x1="61.0" y1="514.7" x2="61.0" y2="517.3" stroke="#222" stroke-width="1"/>
<text x="61.0" y="527.8" font-size="8.2" text-anchor="middle" stroke="#222">5</text>
<line x1="78.8" y1="514.7" x2="78.8" y2="517.3" stroke="#222" stroke-width="1"/>
<text x="79.1" y="527.8" font-size="8.2" text-anchor="middle" stroke="#222">10</text>
<line x1="96.5" y1="514.7" x2="96.5" y2="517.3" stroke="#222" stroke-width="1"/>
<text x="96.8" y="527.8" font-size="8.2" text-anchor="middle" stroke="#222">15</text>
<polyline points="43.3,440.5 53.9,439.0 64.6,439.8 75.2,436.8 85.9,436.8 96.5,439.8" stroke="#1d5d9b" stroke-width="1.3" fill="none"/>
<circle cx="43.3" cy="440.5" r="1.2" fill="#1d5d9b"/>
<circle cx="53.9" cy="439.0" r="1.2" fill="#1d5d9b"/>
<path d="M53.9,436.0V442.0M52.6,436.0h2.6M52.6,442.0h2.6" stroke="#1d5d9b" stroke-width="0.9"/>
<circle cx="64.6" cy="439.8" r="1.2" fill="#1d5d9b"/>
<path d="M64.6,437.2V442.4M63.3,437.2h2.6M63.3,442.4h2.6" stroke="#1d5d9b" stroke-width="0.9"/>
<circle cx="75.2" cy="436.8" r="1.2" fill="#1d5d9b"/>
<path d="M75.2,434.6V439.0M74.0,434.6h2.6M74.0,439.0h2.6" stroke="#1d5d9b" stroke-width="0.9"/>
<circle cx="85.9" cy="436.8" r="1.2" fill="#1d5d9b"/>
<path d="M85.9,434.6V439.0M84.6,434.6h2.6M84.6,439.0h2.6" stroke="#1d5d9b" stroke-width="0.9"/>
<circle cx="96.5" cy="439.8" r="1.2" fill="#1d5d9b"/>
<path d="M96.5,438.6V440.9M95.2,438.6h2.6M95.2,440.9h2.6" stroke="#1d5d9b" stroke-width="0.9"/>
<polyline points="43.3,440.5 53.9,436.0 64.6,435.3 75.2,439.0 85.9,436.8 96.5,436.0" stroke="#cc1f3f" stroke-width="1.3" fill="none"/>
<circle cx="43.3" cy="440.5" r="1.2" fill="#cc1f3f"/>
<circle cx="53.9" cy="436.0" r="1.2" fill="#cc1f3f"/>
<path d="M53.9,434.6V437.5M52.6,434.6h2.6M52.6,437.5h2.6" stroke="#cc1f3f" stroke-width="0.9"/>
<circle cx="64.6" cy="435.3" r="1.2" fill="#cc1f3f"/>
<path d="M64.6,433.1V437.5M63.3,433.1h2.6M63.3,437.5h2.6" stroke="#cc1f3f" stroke-width="0.9"/>
<circle cx="75.2" cy="439.0" r="1.2" fill="#cc1f3f"/>
<path d="M75.2,437.9V440.1M74.0,437.9h2.6M74.0,440.1h2.6" stroke="#cc1f3f" stroke-width="0.9"/>
<circle cx="85.9" cy="436.8" r="1.2" fill="#cc1f3f"/>
<path d="M85.9,433.8V439.8M84.6,433.8h2.6M84.6,439.8h2.6" stroke="#cc1f3f" stroke-width="0.9"/>
<circle cx="96.5" cy="436.0" r="1.2" fill="#cc1f3f"/>
<path d="M96.5,435.3V436.8M95.2,435.3h2.6M95.2,436.8h2.6" stroke="#cc1f3f" stroke-width="0.9"/>
<text x="139.1" y="427.8" font-size="8.2" stroke="#222" textLength="36.3" lengthAdjust="spacingAndGlyphs">sgRNA#1</text>
<line x1="129.6" y1="429.7" x2="129.6" y2="515.4" stroke="#222" stroke-width="1.5"/>
<line x1="128.9" y1="514.7" x2="185.9" y2="514.7" stroke="#222" stroke-width="1.5"/>
<line x1="126.0" y1="514.7" x2="129.6" y2="514.7" stroke="#222" stroke-width="1"/>
<text x="123.3" y="517.7" font-size="8.4" text-anchor="end" stroke="#222" textLength="4.8" lengthAdjust="spacingAndGlyphs">0</text>
<line x1="126.0" y1="496.2" x2="129.6" y2="496.2" stroke="#222" stroke-width="1"/>
<text x="123.3" y="499.2" font-size="8.4" text-anchor="end" stroke="#222" textLength="9.7" lengthAdjust="spacingAndGlyphs">25</text>
<line x1="126.0" y1="477.6" x2="129.6" y2="477.6" stroke="#222" stroke-width="1"/>
<text x="123.3" y="480.6" font-size="8.4" text-anchor="end" stroke="#222" textLength="9.7" lengthAdjust="spacingAndGlyphs">50</text>
<line x1="126.0" y1="459.1" x2="129.6" y2="459.1" stroke="#222" stroke-width="1"/>
<text x="123.3" y="462.1" font-size="8.4" text-anchor="end" stroke="#222" textLength="9.7" lengthAdjust="spacingAndGlyphs">75</text>
<line x1="126.0" y1="440.5" x2="129.6" y2="440.5" stroke="#222" stroke-width="1"/>
<text x="123.3" y="443.5" font-size="8.4" text-anchor="end" stroke="#222" textLength="14.5" lengthAdjust="spacingAndGlyphs">100</text>
<line x1="129.6" y1="514.7" x2="129.6" y2="517.3" stroke="#222" stroke-width="1"/>
<text x="129.6" y="527.8" font-size="8.2" text-anchor="middle" stroke="#222">0</text>
<line x1="147.3" y1="514.7" x2="147.3" y2="517.3" stroke="#222" stroke-width="1"/>
<text x="147.3" y="527.8" font-size="8.2" text-anchor="middle" stroke="#222">5</text>
<line x1="165.1" y1="514.7" x2="165.1" y2="517.3" stroke="#222" stroke-width="1"/>
<text x="165.4" y="527.8" font-size="8.2" text-anchor="middle" stroke="#222">10</text>
<line x1="182.8" y1="514.7" x2="182.8" y2="517.3" stroke="#222" stroke-width="1"/>
<text x="183.2" y="527.8" font-size="8.2" text-anchor="middle" stroke="#222">15</text>
<polyline points="129.6,440.5 140.2,448.7 150.9,455.7 161.5,462.8 172.2,469.4 182.8,472.8" stroke="#1d5d9b" stroke-width="1.3" fill="none"/>
<circle cx="129.6" cy="440.5" r="1.2" fill="#1d5d9b"/>
<circle cx="140.2" cy="448.7" r="1.2" fill="#1d5d9b"/>
<path d="M140.2,447.9V449.4M138.9,447.9h2.6M138.9,449.4h2.6" stroke="#1d5d9b" stroke-width="0.9"/>
<circle cx="150.9" cy="455.7" r="1.2" fill="#1d5d9b"/>
<path d="M150.9,453.5V457.9M149.6,453.5h2.6M149.6,457.9h2.6" stroke="#1d5d9b" stroke-width="0.9"/>
<circle cx="161.5" cy="462.8" r="1.2" fill="#1d5d9b"/>
<circle cx="172.2" cy="469.4" r="1.2" fill="#1d5d9b"/>
<circle cx="182.8" cy="472.8" r="1.2" fill="#1d5d9b"/>
<polyline points="129.6,440.5 140.2,449.4 150.9,462.0 161.5,477.9 172.2,492.3 182.8,496.0" stroke="#cc1f3f" stroke-width="1.3" fill="none"/>
<circle cx="129.6" cy="440.5" r="1.2" fill="#cc1f3f"/>
<circle cx="140.2" cy="449.4" r="1.2" fill="#cc1f3f"/>
<circle cx="150.9" cy="462.0" r="1.2" fill="#cc1f3f"/>
<circle cx="161.5" cy="477.9" r="1.2" fill="#cc1f3f"/>
<path d="M161.5,476.4V479.4M160.2,476.4h2.6M160.2,479.4h2.6" stroke="#cc1f3f" stroke-width="0.9"/>
<circle cx="172.2" cy="492.3" r="1.2" fill="#cc1f3f"/>
<path d="M172.2,489.7V494.9M170.9,489.7h2.6M170.9,494.9h2.6" stroke="#cc1f3f" stroke-width="0.9"/>
<circle cx="182.8" cy="496.0" r="1.2" fill="#cc1f3f"/>
<path d="M182.8,493.4V498.6M181.5,493.4h2.6M181.5,498.6h2.6" stroke="#cc1f3f" stroke-width="0.9"/>
<text x="187.9" y="509.2" font-size="8.4" text-anchor="end" stroke="#222" textLength="32.2" lengthAdjust="spacingAndGlyphs">p&lt;0.001</text>
<text x="225.6" y="427.8" font-size="8.2" stroke="#222" textLength="37.6" lengthAdjust="spacingAndGlyphs">sgRNA#2</text>
<line x1="215.7" y1="429.7" x2="215.7" y2="515.4" stroke="#222" stroke-width="1.5"/>
<line x1="215.0" y1="514.7" x2="272.0" y2="514.7" stroke="#222" stroke-width="1.5"/>
<line x1="212.1" y1="514.7" x2="215.7" y2="514.7" stroke="#222" stroke-width="1"/>
<text x="209.4" y="517.7" font-size="8.4" text-anchor="end" stroke="#222" textLength="4.8" lengthAdjust="spacingAndGlyphs">0</text>
<line x1="212.1" y1="496.2" x2="215.7" y2="496.2" stroke="#222" stroke-width="1"/>
<text x="209.4" y="499.2" font-size="8.4" text-anchor="end" stroke="#222" textLength="9.7" lengthAdjust="spacingAndGlyphs">25</text>
<line x1="212.1" y1="477.6" x2="215.7" y2="477.6" stroke="#222" stroke-width="1"/>
<text x="209.4" y="480.6" font-size="8.4" text-anchor="end" stroke="#222" textLength="9.7" lengthAdjust="spacingAndGlyphs">50</text>
<line x1="212.1" y1="459.1" x2="215.7" y2="459.1" stroke="#222" stroke-width="1"/>
<text x="209.4" y="462.1" font-size="8.4" text-anchor="end" stroke="#222" textLength="9.7" lengthAdjust="spacingAndGlyphs">75</text>
<line x1="212.1" y1="440.5" x2="215.7" y2="440.5" stroke="#222" stroke-width="1"/>
<text x="209.4" y="443.5" font-size="8.4" text-anchor="end" stroke="#222" textLength="14.5" lengthAdjust="spacingAndGlyphs">100</text>
<line x1="215.7" y1="514.7" x2="215.7" y2="517.3" stroke="#222" stroke-width="1"/>
<text x="215.7" y="527.8" font-size="8.2" text-anchor="middle" stroke="#222">0</text>
<line x1="233.4" y1="514.7" x2="233.4" y2="517.3" stroke="#222" stroke-width="1"/>
<text x="233.4" y="527.8" font-size="8.2" text-anchor="middle" stroke="#222">5</text>
<line x1="251.2" y1="514.7" x2="251.2" y2="517.3" stroke="#222" stroke-width="1"/>
<text x="251.5" y="527.8" font-size="8.2" text-anchor="middle" stroke="#222">10</text>
<line x1="268.9" y1="514.7" x2="268.9" y2="517.3" stroke="#222" stroke-width="1"/>
<text x="269.2" y="527.8" font-size="8.2" text-anchor="middle" stroke="#222">15</text>
<polyline points="215.7,440.5 226.3,449.4 237.0,449.5 247.6,458.3 258.3,462.8 268.9,464.8" stroke="#1d5d9b" stroke-width="1.3" fill="none"/>
<circle cx="215.7" cy="440.5" r="1.2" fill="#1d5d9b"/>
<circle cx="226.3" cy="449.4" r="1.2" fill="#1d5d9b"/>
<path d="M226.3,448.7V450.1M225.0,448.7h2.6M225.0,450.1h2.6" stroke="#1d5d9b" stroke-width="0.9"/>
<circle cx="237.0" cy="449.5" r="1.2" fill="#1d5d9b"/>
<circle cx="247.6" cy="458.3" r="1.2" fill="#1d5d9b"/>
<path d="M247.6,456.1V460.5M246.3,456.1h2.6M246.3,460.5h2.6" stroke="#1d5d9b" stroke-width="0.9"/>
<circle cx="258.3" cy="462.8" r="1.2" fill="#1d5d9b"/>
<path d="M258.3,460.9V464.6M257.0,460.9h2.6M257.0,464.6h2.6" stroke="#1d5d9b" stroke-width="0.9"/>
<circle cx="268.9" cy="464.8" r="1.2" fill="#1d5d9b"/>
<polyline points="215.7,440.5 226.3,449.4 237.0,458.3 247.6,470.2 258.3,478.5 268.9,484.2" stroke="#cc1f3f" stroke-width="1.3" fill="none"/>
<circle cx="215.7" cy="440.5" r="1.2" fill="#cc1f3f"/>
<circle cx="226.3" cy="449.4" r="1.2" fill="#cc1f3f"/>
<path d="M226.3,446.4V452.4M225.0,446.4h2.6M225.0,452.4h2.6" stroke="#cc1f3f" stroke-width="0.9"/>
<circle cx="237.0" cy="458.3" r="1.2" fill="#cc1f3f"/>
<circle cx="247.6" cy="470.2" r="1.2" fill="#cc1f3f"/>
<path d="M247.6,465.7V474.6M246.3,465.7h2.6M246.3,474.6h2.6" stroke="#cc1f3f" stroke-width="0.9"/>
<circle cx="258.3" cy="478.5" r="1.2" fill="#cc1f3f"/>
<circle cx="268.9" cy="484.2" r="1.2" fill="#cc1f3f"/>
<path d="M268.9,482.7V485.7M267.6,482.7h2.6M267.6,485.7h2.6" stroke="#cc1f3f" stroke-width="0.9"/>
<text x="270.8" y="509.2" font-size="8.4" text-anchor="end" stroke="#222" textLength="37.8" lengthAdjust="spacingAndGlyphs">p&lt;0.0001</text>
<text x="307.6" y="427.8" font-size="8.2" stroke="#222" textLength="36.8" lengthAdjust="spacingAndGlyphs">sgRNA#1</text>
<line x1="297.9" y1="429.7" x2="297.9" y2="515.4" stroke="#222" stroke-width="1.5"/>
<line x1="297.2" y1="514.7" x2="354.2" y2="514.7" stroke="#222" stroke-width="1.5"/>
<line x1="294.3" y1="514.7" x2="297.9" y2="514.7" stroke="#222" stroke-width="1"/>
<text x="291.6" y="517.7" font-size="8.4" text-anchor="end" stroke="#222" textLength="4.8" lengthAdjust="spacingAndGlyphs">0</text>
<line x1="294.3" y1="496.2" x2="297.9" y2="496.2" stroke="#222" stroke-width="1"/>
<text x="291.6" y="499.2" font-size="8.4" text-anchor="end" stroke="#222" textLength="9.7" lengthAdjust="spacingAndGlyphs">25</text>
<line x1="294.3" y1="477.6" x2="297.9" y2="477.6" stroke="#222" stroke-width="1"/>
<text x="291.6" y="480.6" font-size="8.4" text-anchor="end" stroke="#222" textLength="9.7" lengthAdjust="spacingAndGlyphs">50</text>
<line x1="294.3" y1="459.1" x2="297.9" y2="459.1" stroke="#222" stroke-width="1"/>
<text x="291.6" y="462.1" font-size="8.4" text-anchor="end" stroke="#222" textLength="9.7" lengthAdjust="spacingAndGlyphs">75</text>
<line x1="294.3" y1="440.5" x2="297.9" y2="440.5" stroke="#222" stroke-width="1"/>
<text x="291.6" y="443.5" font-size="8.4" text-anchor="end" stroke="#222" textLength="14.5" lengthAdjust="spacingAndGlyphs">100</text>
<line x1="297.9" y1="514.7" x2="297.9" y2="517.3" stroke="#222" stroke-width="1"/>
<text x="297.9" y="527.8" font-size="8.2" text-anchor="middle" stroke="#222">0</text>
<line x1="315.6" y1="514.7" x2="315.6" y2="517.3" stroke="#222" stroke-width="1"/>
<text x="315.6" y="527.8" font-size="8.2" text-anchor="middle" stroke="#222">5</text>
<line x1="333.4" y1="514.7" x2="333.4" y2="517.3" stroke="#222" stroke-width="1"/>
<text x="333.7" y="527.8" font-size="8.2" text-anchor="middle" stroke="#222">10</text>
<line x1="351.1" y1="514.7" x2="351.1" y2="517.3" stroke="#222" stroke-width="1"/>
<text x="351.4" y="527.8" font-size="8.2" text-anchor="middle" stroke="#222">15</text>
<polyline points="297.9,440.5 308.5,442.4 319.2,441.2 329.8,446.4 340.5,443.2 351.1,446.8" stroke="#1d5d9b" stroke-width="1.3" fill="none"/>
<circle cx="297.9" cy="440.5" r="1.2" fill="#1d5d9b"/>
<circle cx="308.5" cy="442.4" r="1.2" fill="#1d5d9b"/>
<path d="M308.5,439.4V445.3M307.2,439.4h2.6M307.2,445.3h2.6" stroke="#1d5d9b" stroke-width="0.9"/>
<circle cx="319.2" cy="441.2" r="1.2" fill="#1d5d9b"/>
<path d="M319.2,439.0V443.5M317.9,439.0h2.6M317.9,443.5h2.6" stroke="#1d5d9b" stroke-width="0.9"/>
<circle cx="329.8" cy="446.4" r="1.2" fill="#1d5d9b"/>
<path d="M329.8,444.2V448.7M328.5,444.2h2.6M328.5,448.7h2.6" stroke="#1d5d9b" stroke-width="0.9"/>
<circle cx="340.5" cy="443.2" r="1.2" fill="#1d5d9b"/>
<path d="M340.5,441.0V445.5M339.2,441.0h2.6M339.2,445.5h2.6" stroke="#1d5d9b" stroke-width="0.9"/>
<circle cx="351.1" cy="446.8" r="1.2" fill="#1d5d9b"/>
<polyline points="297.9,440.5 308.5,439.8 319.2,441.2 329.8,449.4 340.5,455.7 351.1,463.7" stroke="#cc1f3f" stroke-width="1.3" fill="none"/>
<circle cx="297.9" cy="440.5" r="1.2" fill="#cc1f3f"/>
<circle cx="308.5" cy="439.8" r="1.2" fill="#cc1f3f"/>
<path d="M308.5,437.5V442.0M307.2,437.5h2.6M307.2,442.0h2.6" stroke="#cc1f3f" stroke-width="0.9"/>
<circle cx="319.2" cy="441.2" r="1.2" fill="#cc1f3f"/>
<path d="M319.2,438.3V444.2M317.9,438.3h2.6M317.9,444.2h2.6" stroke="#cc1f3f" stroke-width="0.9"/>
<circle cx="329.8" cy="449.4" r="1.2" fill="#cc1f3f"/>
<circle cx="340.5" cy="455.7" r="1.2" fill="#cc1f3f"/>
<path d="M340.5,453.5V457.9M339.2,453.5h2.6M339.2,457.9h2.6" stroke="#cc1f3f" stroke-width="0.9"/>
<circle cx="351.1" cy="463.7" r="1.2" fill="#cc1f3f"/>
<path d="M351.1,461.1V466.3M349.8,461.1h2.6M349.8,466.3h2.6" stroke="#cc1f3f" stroke-width="0.9"/>
<text x="354.8" y="509.2" font-size="8.4" text-anchor="end" stroke="#222" textLength="32.2" lengthAdjust="spacingAndGlyphs">p&lt;0.001</text>
<text x="393.7" y="427.8" font-size="8.2" stroke="#222" textLength="37.4" lengthAdjust="spacingAndGlyphs">sgRNA#2</text>
<line x1="384.2" y1="429.7" x2="384.2" y2="515.4" stroke="#222" stroke-width="1.5"/>
<line x1="383.5" y1="514.7" x2="440.5" y2="514.7" stroke="#222" stroke-width="1.5"/>
<line x1="380.6" y1="514.7" x2="384.2" y2="514.7" stroke="#222" stroke-width="1"/>
<text x="377.9" y="517.7" font-size="8.4" text-anchor="end" stroke="#222" textLength="4.8" lengthAdjust="spacingAndGlyphs">0</text>
<line x1="380.6" y1="496.2" x2="384.2" y2="496.2" stroke="#222" stroke-width="1"/>
<text x="377.9" y="499.2" font-size="8.4" text-anchor="end" stroke="#222" textLength="9.7" lengthAdjust="spacingAndGlyphs">25</text>
<line x1="380.6" y1="477.6" x2="384.2" y2="477.6" stroke="#222" stroke-width="1"/>
<text x="377.9" y="480.6" font-size="8.4" text-anchor="end" stroke="#222" textLength="9.7" lengthAdjust="spacingAndGlyphs">50</text>
<line x1="380.6" y1="459.1" x2="384.2" y2="459.1" stroke="#222" stroke-width="1"/>
<text x="377.9" y="462.1" font-size="8.4" text-anchor="end" stroke="#222" textLength="9.7" lengthAdjust="spacingAndGlyphs">75</text>
<line x1="380.6" y1="440.5" x2="384.2" y2="440.5" stroke="#222" stroke-width="1"/>
<text x="377.9" y="443.5" font-size="8.4" text-anchor="end" stroke="#222" textLength="14.5" lengthAdjust="spacingAndGlyphs">100</text>
<line x1="384.2" y1="514.7" x2="384.2" y2="517.3" stroke="#222" stroke-width="1"/>
<text x="384.2" y="527.8" font-size="8.2" text-anchor="middle" stroke="#222">0</text>
<line x1="401.9" y1="514.7" x2="401.9" y2="517.3" stroke="#222" stroke-width="1"/>
<text x="401.9" y="527.8" font-size="8.2" text-anchor="middle" stroke="#222">5</text>
<line x1="419.7" y1="514.7" x2="419.7" y2="517.3" stroke="#222" stroke-width="1"/>
<text x="420.0" y="527.8" font-size="8.2" text-anchor="middle" stroke="#222">10</text>
<line x1="437.4" y1="514.7" x2="437.4" y2="517.3" stroke="#222" stroke-width="1"/>
<text x="437.8" y="527.8" font-size="8.2" text-anchor="middle" stroke="#222">15</text>
<polyline points="384.2,440.5 394.8,443.2 405.5,445.7 416.1,448.5 426.8,447.9 437.4,448.5" stroke="#1d5d9b" stroke-width="1.3" fill="none"/>
<circle cx="384.2" cy="440.5" r="1.2" fill="#1d5d9b"/>
<circle cx="394.8" cy="443.2" r="1.2" fill="#1d5d9b"/>
<path d="M394.8,441.0V445.5M393.5,441.0h2.6M393.5,445.5h2.6" stroke="#1d5d9b" stroke-width="0.9"/>
<circle cx="405.5" cy="445.7" r="1.2" fill="#1d5d9b"/>
<path d="M405.5,442.7V448.7M404.2,442.7h2.6M404.2,448.7h2.6" stroke="#1d5d9b" stroke-width="0.9"/>
<circle cx="416.1" cy="448.5" r="1.2" fill="#1d5d9b"/>
<circle cx="426.8" cy="447.9" r="1.2" fill="#1d5d9b"/>
<path d="M426.8,445.7V450.1M425.5,445.7h2.6M425.5,450.1h2.6" stroke="#1d5d9b" stroke-width="0.9"/>
<circle cx="437.4" cy="448.5" r="1.2" fill="#1d5d9b"/>
<path d="M437.4,446.3V450.7M436.1,446.3h2.6M436.1,450.7h2.6" stroke="#1d5d9b" stroke-width="0.9"/>
<polyline points="384.2,440.5 394.8,441.2 405.5,450.4 416.1,458.8 426.8,468.0 437.4,474.9" stroke="#cc1f3f" stroke-width="1.3" fill="none"/>
<circle cx="384.2" cy="440.5" r="1.2" fill="#cc1f3f"/>
<circle cx="394.8" cy="441.2" r="1.2" fill="#cc1f3f"/>
<path d="M394.8,439.0V443.5M393.5,439.0h2.6M393.5,443.5h2.6" stroke="#cc1f3f" stroke-width="0.9"/>
<circle cx="405.5" cy="450.4" r="1.2" fill="#cc1f3f"/>
<path d="M405.5,448.2V452.7M404.2,448.2h2.6M404.2,452.7h2.6" stroke="#cc1f3f" stroke-width="0.9"/>
<circle cx="416.1" cy="458.8" r="1.2" fill="#cc1f3f"/>
<circle cx="426.8" cy="468.0" r="1.2" fill="#cc1f3f"/>
<path d="M426.8,466.8V469.1M425.5,466.8h2.6M425.5,469.1h2.6" stroke="#cc1f3f" stroke-width="0.9"/>
<circle cx="437.4" cy="474.9" r="1.2" fill="#cc1f3f"/>
<path d="M437.4,473.1V476.8M436.1,473.1h2.6M436.1,476.8h2.6" stroke="#cc1f3f" stroke-width="0.9"/>
<text x="441.9" y="509.2" font-size="8.4" text-anchor="end" stroke="#222" textLength="37.8" lengthAdjust="spacingAndGlyphs">p&lt;0.0001</text>
<text x="235.7" y="538.9" font-size="10.2" stroke="#222" textLength="17.6" lengthAdjust="spacingAndGlyphs">Days</text>
<text x="15.2" y="471.8" font-size="9.3" text-anchor="middle" stroke="#222" textLength="80.4" lengthAdjust="spacingAndGlyphs" transform="rotate(-90 15.2 471.8)">Crimson positivity (%)</text>
<line x1="450.5" y1="430.4" x2="463.8" y2="430.4" stroke="#1d5d9b" stroke-width="1.3"/>
<line x1="450.5" y1="445.8" x2="463.8" y2="445.8" stroke="#cc1f3f" stroke-width="1.3"/>
<text x="466.5" y="433.2" font-size="8.7" stroke="#222" textLength="45.3" lengthAdjust="spacingAndGlyphs">Ruxolitinib –</text>
<text x="466.5" y="448.1" font-size="8.7" stroke="#222" textLength="46.0" lengthAdjust="spacingAndGlyphs">Ruxolitinib +</text>
<text x="466.5" y="457.3" font-size="8.7" stroke="#222" textLength="30.3" lengthAdjust="spacingAndGlyphs">(100nM)</text>
<text x="7.5" y="556.3" font-size="10.8" fill="#000" stroke="#000" style="stroke-width:0.45px" font-weight="bold" textLength="6.6" lengthAdjust="spacingAndGlyphs">F</text>
<text x="84.4" y="564.8" font-size="9.8" text-anchor="end" stroke="#222" textLength="32.7" lengthAdjust="spacingAndGlyphs">sgRNA</text>
<text x="84.4" y="578.5" font-size="9.8" text-anchor="end" stroke="#222" textLength="52.6" lengthAdjust="spacingAndGlyphs">Ruxo (1μM)</text>
<text x="91.1" y="565.8" font-size="8.6" stroke="#222" textLength="25.2" lengthAdjust="spacingAndGlyphs">Empty</text>
<line x1="92.3" y1="569.3" x2="116.1" y2="569.3" stroke="#222" stroke-width="1"/>
<text x="144.2" y="554.0" font-size="10.5" stroke="#222" font-style="italic" textLength="25.8" lengthAdjust="spacingAndGlyphs">CRKL</text>
<line x1="126.2" y1="556.5" x2="183.0" y2="556.5" stroke="#222" stroke-width="1"/>
<text x="214.1" y="553.8" font-size="10.5" stroke="#222" font-style="italic" textLength="21.8" lengthAdjust="spacingAndGlyphs">FLT3</text>
<line x1="193.9" y1="556.5" x2="251.0" y2="556.5" stroke="#222" stroke-width="1"/>
<text x="133.4" y="565.8" font-size="8.6" stroke="#222" textLength="9.2" lengthAdjust="spacingAndGlyphs">#1</text>
<line x1="126.2" y1="569.3" x2="149.4" y2="569.3" stroke="#222" stroke-width="1"/>
<text x="167.2" y="565.8" font-size="8.6" stroke="#222" textLength="9.2" lengthAdjust="spacingAndGlyphs">#2</text>
<line x1="159.7" y1="569.3" x2="183.0" y2="569.3" stroke="#222" stroke-width="1"/>
<text x="201.7" y="565.8" font-size="8.6" stroke="#222" textLength="9.2" lengthAdjust="spacingAndGlyphs">#1</text>
<line x1="193.9" y1="569.3" x2="216.7" y2="569.3" stroke="#222" stroke-width="1"/>
<text x="234.9" y="565.8" font-size="8.6" stroke="#222" textLength="9.2" lengthAdjust="spacingAndGlyphs">#2</text>
<line x1="227.4" y1="569.3" x2="251.0" y2="569.3" stroke="#222" stroke-width="1"/>
<line x1="92.8" y1="575.0" x2="97.2" y2="575.0" stroke="#222" stroke-width="0.9"/>
<line x1="110.1" y1="575.0" x2="114.5" y2="575.0" stroke="#222" stroke-width="0.9"/>
<line x1="112.3" y1="572.8" x2="112.3" y2="577.2" stroke="#222" stroke-width="0.9"/>
<line x1="126.9" y1="575.0" x2="131.3" y2="575.0" stroke="#222" stroke-width="0.9"/>
<line x1="143.7" y1="575.0" x2="148.1" y2="575.0" stroke="#222" stroke-width="0.9"/>
<line x1="145.9" y1="572.8" x2="145.9" y2="577.2" stroke="#222" stroke-width="0.9"/>
<line x1="160.7" y1="575.0" x2="165.1" y2="575.0" stroke="#222" stroke-width="0.9"/>
<line x1="177.3" y1="575.0" x2="181.7" y2="575.0" stroke="#222" stroke-width="0.9"/>
<line x1="179.5" y1="572.8" x2="179.5" y2="577.2" stroke="#222" stroke-width="0.9"/>
<line x1="194.1" y1="575.0" x2="198.5" y2="575.0" stroke="#222" stroke-width="0.9"/>
<line x1="211.1" y1="575.0" x2="215.5" y2="575.0" stroke="#222" stroke-width="0.9"/>
<line x1="213.3" y1="572.8" x2="213.3" y2="577.2" stroke="#222" stroke-width="0.9"/>
<line x1="227.5" y1="575.0" x2="231.9" y2="575.0" stroke="#222" stroke-width="0.9"/>
<line x1="244.8" y1="575.0" x2="249.2" y2="575.0" stroke="#222" stroke-width="0.9"/>
<line x1="247.0" y1="572.8" x2="247.0" y2="577.2" stroke="#222" stroke-width="0.9"/>
<text x="84.4" y="590.6" font-size="9.8" text-anchor="end" stroke="#222" textLength="21.5" lengthAdjust="spacingAndGlyphs">FLT3</text>
<text x="84.4" y="606.3" font-size="9.8" text-anchor="end" stroke="#222" textLength="31.3" lengthAdjust="spacingAndGlyphs">pCRKL</text>
<text x="84.4" y="620.7" font-size="9.8" text-anchor="end" stroke="#222" textLength="25.3" lengthAdjust="spacingAndGlyphs">CRKL</text>
<text x="84.4" y="636.4" font-size="9.8" text-anchor="end" stroke="#222" textLength="35.0" lengthAdjust="spacingAndGlyphs">pSTAT5</text>
<text x="84.4" y="656.6" font-size="9.8" text-anchor="end" stroke="#222" textLength="28.7" lengthAdjust="spacingAndGlyphs">STAT5</text>
<text x="84.4" y="673.0" font-size="9.8" text-anchor="end" stroke="#222" textLength="40.6" lengthAdjust="spacingAndGlyphs">pERK1/2</text>
<text x="84.4" y="685.8" font-size="9.8" text-anchor="end" stroke="#222" textLength="34.0" lengthAdjust="spacingAndGlyphs">ERK1/2</text>
<text x="84.4" y="700.4" font-size="9.8" text-anchor="end" stroke="#222" textLength="25.6" lengthAdjust="spacingAndGlyphs">pAKT</text>
<text x="84.4" y="717.7" font-size="9.8" text-anchor="end" stroke="#222" textLength="19.4" lengthAdjust="spacingAndGlyphs">AKT</text>
<text x="31.7" y="735.8" font-size="9.8" stroke="#222" textLength="17.5" lengthAdjust="spacingAndGlyphs">pS6</text>
<text x="49.6" y="731.4" font-size="7.3" stroke="#222" textLength="34.6" lengthAdjust="spacingAndGlyphs">S235/236</text>
<text x="31.7" y="750.4" font-size="9.8" stroke="#222" textLength="17.5" lengthAdjust="spacingAndGlyphs">pS6</text>
<text x="49.6" y="746.0" font-size="7.3" stroke="#222" textLength="34.6" lengthAdjust="spacingAndGlyphs">S240/244</text>
<text x="84.4" y="764.5" font-size="9.8" text-anchor="end" stroke="#222" textLength="11.5" lengthAdjust="spacingAndGlyphs">S6</text>
<text x="84.4" y="776.2" font-size="9.8" text-anchor="end" stroke="#222" textLength="31.8" lengthAdjust="spacingAndGlyphs">β-actin</text>
<rect x="87.3" y="579.9" width="168.9" height="16.7" fill="#d8d8d8"/>
<rect x="87.3" y="598.4" width="168.9" height="11.7" fill="#f8f8f8"/>
<rect x="87.3" y="612.0" width="168.9" height="11.1" fill="#f8f8f8"/>
<rect x="87.3" y="624.9" width="168.9" height="18.4" fill="#f8f8f8"/>
<rect x="87.3" y="644.7" width="168.9" height="17.9" fill="#f8f8f8"/>
<rect x="87.3" y="664.3" width="168.9" height="12.2" fill="#f8f8f8"/>
<rect x="87.3" y="677.6" width="168.9" height="11.1" fill="#f8f8f8"/>
<rect x="87.3" y="690.9" width="168.9" height="13.7" fill="#f8f8f8"/>
<rect x="87.3" y="707.1" width="168.9" height="15.9" fill="#f8f8f8"/>
<rect x="87.3" y="724.9" width="168.9" height="14.8" fill="#f8f8f8"/>
<rect x="87.3" y="741.2" width="168.9" height="13.0" fill="#f8f8f8"/>
<rect x="87.3" y="756.2" width="168.9" height="11.0" fill="#f8f8f8"/>
<rect x="87.3" y="769.2" width="168.9" height="12.2" fill="#f8f8f8"/>
<path d="M89.8,584.1 L102.4,584.7 L102.4,593.1 L89.8,592.5Z" fill="#242424" filter="url(#b1)"/>
<path d="M107.1,584.3 L119.7,584.9 L119.7,593.3 L107.1,592.7Z" fill="#131313" filter="url(#b1)"/>
<path d="M124.1,584.5 L136.7,585.1 L136.7,593.5 L124.1,592.9Z" fill="#767676" filter="url(#b1)"/>
<path d="M141.6,584.7 L154.2,585.3 L154.2,593.7 L141.6,593.1Z" fill="#767676" filter="url(#b1)"/>
<path d="M158.2,584.9 L170.8,585.5 L170.8,593.9 L158.2,593.3Z" fill="#666666" filter="url(#b1)"/>
<path d="M175.0,585.1 L187.6,585.7 L187.6,594.1 L175.0,593.5Z" fill="#1d1d1d" filter="url(#b1)"/>
<path d="M191.6,585.3 L204.2,585.9 L204.2,594.3 L191.6,593.7Z" fill="#9a9a9a" filter="url(#b1)"/>
<path d="M207.9,585.5 L220.5,586.1 L220.5,594.5 L207.9,593.9Z" fill="#8e8e8e" filter="url(#b1)"/>
<path d="M224.3,585.7 L236.9,586.3 L236.9,594.7 L224.3,594.1Z" fill="#bfbfbf" filter="url(#b1)"/>
<path d="M240.7,585.9 L253.3,586.5 L253.3,594.9 L240.7,594.3Z" fill="#bfbfbf" filter="url(#b1)"/>
<path d="M89.8,584.1 L102.4,584.7 L102.4,587.9 L89.8,587.3Z" fill="#0c0c0c" filter="url(#b1)"/>
<path d="M107.1,584.4 L119.7,585.0 L119.7,588.2 L107.1,587.6Z" fill="#0c0c0c" filter="url(#b1)"/>
<path d="M124.1,584.7 L136.7,585.3 L136.7,588.5 L124.1,587.9Z" fill="#666666" filter="url(#b1)"/>
<path d="M141.6,585.0 L154.2,585.6 L154.2,588.8 L141.6,588.2Z" fill="#6a6a6a" filter="url(#b1)"/>
<path d="M158.2,585.3 L170.8,585.9 L170.8,589.1 L158.2,588.5Z" fill="#535353" filter="url(#b1)"/>
<path d="M175.0,585.6 L187.6,586.2 L187.6,589.4 L175.0,588.8Z" fill="#131313" filter="url(#b1)"/>
<path d="M191.6,585.9 L204.2,586.5 L204.2,589.7 L191.6,589.1Z" fill="#959595" filter="url(#b1)"/>
<path d="M207.9,586.2 L220.5,586.8 L220.5,590.0 L207.9,589.4Z" fill="#878787" filter="url(#b1)"/>
<path d="M224.3,586.5 L236.9,587.1 L236.9,590.3 L224.3,589.7Z" fill="#b6b6b6" filter="url(#b1)"/>
<path d="M240.7,586.8 L253.3,587.4 L253.3,590.6 L240.7,590.0Z" fill="#bbbbbb" filter="url(#b1)"/>
<path d="M89.8,589.5 L102.4,590.1 L102.4,593.1 L89.8,592.5Z" fill="#242424" filter="url(#b1)"/>
<path d="M107.1,589.7 L119.7,590.3 L119.7,593.3 L107.1,592.7Z" fill="#0c0c0c" filter="url(#b1)"/>
<path d="M124.1,589.9 L136.7,590.5 L136.7,593.5 L124.1,592.9Z" fill="#282828" filter="url(#b1)"/>
<path d="M141.6,590.1 L154.2,590.7 L154.2,593.7 L141.6,593.1Z" fill="#2d2d2d" filter="url(#b1)"/>
<path d="M158.2,590.3 L170.8,590.9 L170.8,593.9 L158.2,593.3Z" fill="#242424" filter="url(#b1)"/>
<path d="M175.0,590.5 L187.6,591.1 L187.6,594.1 L175.0,593.5Z" fill="#0c0c0c" filter="url(#b1)"/>
<path d="M191.6,590.7 L204.2,591.3 L204.2,594.3 L191.6,593.7Z" fill="#6f6f6f" filter="url(#b1)"/>
<path d="M207.9,590.9 L220.5,591.5 L220.5,594.5 L207.9,593.9Z" fill="#636363" filter="url(#b1)"/>
<path d="M224.3,591.1 L236.9,591.7 L236.9,594.7 L224.3,594.1Z" fill="#9e9e9e" filter="url(#b1)"/>
<path d="M240.7,591.3 L253.3,591.9 L253.3,594.9 L240.7,594.3Z" fill="#a5a5a5" filter="url(#b1)"/>
<path d="M89.5,602.6 L102.7,603.1 L102.7,606.4 L89.5,605.9Z" fill="#1d1d1d" filter="url(#b1)"/>
<path d="M106.8,602.6 L120.0,603.1 L120.0,606.4 L106.8,605.9Z" fill="#0c0c0c" filter="url(#b1)"/>
<path d="M157.9,602.8 L171.1,603.3 L171.1,606.6 L157.9,606.1Z" fill="#c9c9c9" filter="url(#b1)"/>
<path d="M174.7,602.9 L187.9,603.4 L187.9,606.6 L174.7,606.1Z" fill="#d0d0d0" filter="url(#b1)"/>
<path d="M191.3,602.9 L204.5,603.4 L204.5,606.7 L191.3,606.2Z" fill="#0c0c0c" filter="url(#b1)"/>
<path d="M207.6,603.0 L220.8,603.5 L220.8,606.8 L207.6,606.2Z" fill="#1d1d1d" filter="url(#b1)"/>
<path d="M224.0,603.0 L237.2,603.5 L237.2,606.8 L224.0,606.3Z" fill="#131313" filter="url(#b1)"/>
<path d="M240.4,603.1 L253.6,603.6 L253.6,606.9 L240.4,606.4Z" fill="#242424" filter="url(#b1)"/>
<path d="M89.5,614.8 L102.7,615.6 L102.7,618.0 L89.5,617.2Z" fill="#dcdcdc" filter="url(#b1)"/>
<path d="M106.8,614.9 L120.0,615.7 L120.0,618.1 L106.8,617.3Z" fill="#b1b1b1" filter="url(#b1)"/>
<path d="M157.9,615.2 L171.1,616.0 L171.1,618.4 L157.9,617.6Z" fill="#e0e0e0" filter="url(#b1)"/>
<path d="M174.7,615.3 L187.9,616.1 L187.9,618.5 L174.7,617.7Z" fill="#e5e5e5" filter="url(#b1)"/>
<path d="M191.3,615.4 L204.5,616.2 L204.5,618.6 L191.3,617.8Z" fill="#8e8e8e" filter="url(#b1)"/>
<path d="M207.6,615.5 L220.8,616.3 L220.8,618.7 L207.6,617.9Z" fill="#8e8e8e" filter="url(#b1)"/>
<path d="M224.0,615.6 L237.2,616.4 L237.2,618.8 L224.0,618.0Z" fill="#8e8e8e" filter="url(#b1)"/>
<path d="M240.4,615.7 L253.6,616.5 L253.6,618.9 L240.4,618.1Z" fill="#9a9a9a" filter="url(#b1)"/>
<path d="M89.5,617.4 L102.7,618.4 L102.7,621.2 L89.5,620.2Z" fill="#242424" filter="url(#b1)"/>
<path d="M106.8,617.5 L120.0,618.5 L120.0,621.3 L106.8,620.3Z" fill="#181818" filter="url(#b1)"/>
<path d="M123.8,617.6 L137.0,618.6 L137.0,621.4 L123.8,620.4Z" fill="#ececec" filter="url(#b1)"/>
<path d="M141.3,617.7 L154.5,618.7 L154.5,621.5 L141.3,620.5Z" fill="#ececec" filter="url(#b1)"/>
<path d="M157.9,617.8 L171.1,618.8 L171.1,621.6 L157.9,620.6Z" fill="#b1b1b1" filter="url(#b1)"/>
<path d="M174.7,617.9 L187.9,618.9 L187.9,621.7 L174.7,620.7Z" fill="#bbbbbb" filter="url(#b1)"/>
<path d="M191.3,618.0 L204.5,619.0 L204.5,621.8 L191.3,620.8Z" fill="#131313" filter="url(#b1)"/>
<path d="M207.6,618.1 L220.8,619.1 L220.8,621.9 L207.6,620.9Z" fill="#131313" filter="url(#b1)"/>
<path d="M224.0,618.2 L237.2,619.2 L237.2,622.0 L224.0,621.0Z" fill="#131313" filter="url(#b1)"/>
<path d="M240.4,618.3 L253.6,619.3 L253.6,622.1 L240.4,621.1Z" fill="#131313" filter="url(#b1)"/>
<path d="M89.5,628.9 L102.7,629.3 L102.7,632.5 L89.5,632.1Z" fill="#8e8e8e" filter="url(#b1)"/>
<path d="M123.8,629.5 L137.0,629.9 L137.0,633.1 L123.8,632.7Z" fill="#0c0c0c" filter="url(#b1)"/>
<path d="M157.9,630.0 L171.1,630.4 L171.1,633.6 L157.9,633.2Z" fill="#0c0c0c" filter="url(#b1)"/>
<path d="M191.3,630.6 L204.5,631.0 L204.5,634.2 L191.3,633.8Z" fill="#242424" filter="url(#b1)"/>
<path d="M224.0,631.1 L237.2,631.5 L237.2,634.7 L224.0,634.3Z" fill="#2b2b2b" filter="url(#b1)"/>
<path d="M89.5,632.7 L102.7,633.1 L102.7,636.3 L89.5,635.9Z" fill="#9a9a9a" filter="url(#b1)"/>
<path d="M123.8,633.3 L137.0,633.7 L137.0,636.9 L123.8,636.5Z" fill="#131313" filter="url(#b1)"/>
<path d="M157.9,633.8 L171.1,634.2 L171.1,637.4 L157.9,637.0Z" fill="#131313" filter="url(#b1)"/>
<path d="M191.3,634.4 L204.5,634.8 L204.5,638.0 L191.3,637.6Z" fill="#242424" filter="url(#b1)"/>
<path d="M224.0,634.9 L237.2,635.3 L237.2,638.5 L224.0,638.1Z" fill="#2f2f2f" filter="url(#b1)"/>
<path d="M89.5,631.4 L102.7,631.8 L102.7,633.8 L89.5,633.4Z" fill="#d5d5d5" filter="url(#b1)"/>
<path d="M123.8,632.0 L137.0,632.4 L137.0,634.4 L123.8,634.0Z" fill="#6a6a6a" filter="url(#b1)"/>
<path d="M157.9,632.5 L171.1,632.9 L171.1,634.9 L157.9,634.5Z" fill="#6a6a6a" filter="url(#b1)"/>
<path d="M191.3,633.1 L204.5,633.5 L204.5,635.5 L191.3,635.1Z" fill="#8e8e8e" filter="url(#b1)"/>
<path d="M224.0,633.6 L237.2,634.0 L237.2,636.0 L224.0,635.6Z" fill="#9a9a9a" filter="url(#b1)"/>
<path d="M89.5,648.8 L102.7,648.8 L102.7,651.0 L89.5,651.0Z" fill="#dcdcdc" filter="url(#b1)"/>
<path d="M106.8,649.0 L120.0,649.0 L120.0,651.2 L106.8,651.2Z" fill="#dcdcdc" filter="url(#b1)"/>
<path d="M123.8,649.3 L137.0,649.3 L137.0,651.5 L123.8,651.5Z" fill="#dcdcdc" filter="url(#b1)"/>
<path d="M141.3,649.5 L154.5,649.5 L154.5,651.8 L141.3,651.8Z" fill="#dcdcdc" filter="url(#b1)"/>
<path d="M157.9,649.8 L171.1,649.8 L171.1,652.0 L157.9,652.0Z" fill="#dcdcdc" filter="url(#b1)"/>
<path d="M174.7,650.0 L187.9,650.0 L187.9,652.2 L174.7,652.2Z" fill="#dcdcdc" filter="url(#b1)"/>
<path d="M191.3,650.3 L204.5,650.3 L204.5,652.5 L191.3,652.5Z" fill="#dcdcdc" filter="url(#b1)"/>
<path d="M207.6,650.5 L220.8,650.5 L220.8,652.8 L207.6,652.8Z" fill="#dcdcdc" filter="url(#b1)"/>
<path d="M224.0,650.8 L237.2,650.8 L237.2,653.0 L224.0,653.0Z" fill="#dcdcdc" filter="url(#b1)"/>
<path d="M240.4,651.0 L253.6,651.0 L253.6,653.2 L240.4,653.2Z" fill="#dcdcdc" filter="url(#b1)"/>
<path d="M89.5,652.7 L102.7,653.2 L102.7,656.5 L89.5,656.0Z" fill="#242424" filter="url(#b1)"/>
<path d="M106.8,652.9 L120.0,653.5 L120.0,656.8 L106.8,656.2Z" fill="#242424" filter="url(#b1)"/>
<path d="M123.8,653.1 L137.0,653.6 L137.0,656.9 L123.8,656.4Z" fill="#242424" filter="url(#b1)"/>
<path d="M141.3,653.3 L154.5,653.9 L154.5,657.1 L141.3,656.6Z" fill="#242424" filter="url(#b1)"/>
<path d="M157.9,653.5 L171.1,654.0 L171.1,657.3 L157.9,656.8Z" fill="#242424" filter="url(#b1)"/>
<path d="M174.7,653.7 L187.9,654.2 L187.9,657.5 L174.7,657.0Z" fill="#242424" filter="url(#b1)"/>
<path d="M191.3,653.9 L204.5,654.5 L204.5,657.8 L191.3,657.2Z" fill="#242424" filter="url(#b1)"/>
<path d="M207.6,654.1 L220.8,654.6 L220.8,657.9 L207.6,657.4Z" fill="#242424" filter="url(#b1)"/>
<path d="M224.0,654.3 L237.2,654.9 L237.2,658.1 L224.0,657.6Z" fill="#242424" filter="url(#b1)"/>
<path d="M240.4,654.5 L253.6,655.0 L253.6,658.3 L240.4,657.8Z" fill="#242424" filter="url(#b1)"/>
<path d="M89.5,666.2 L102.7,666.8 L102.7,669.0 L89.5,668.5Z" fill="#828282" filter="url(#b1)"/>
<path d="M106.8,666.3 L120.0,666.8 L120.0,669.0 L106.8,668.5Z" fill="#959595" filter="url(#b1)"/>
<path d="M123.8,666.4 L137.0,666.9 L137.0,669.1 L123.8,668.6Z" fill="#d5d5d5" filter="url(#b1)"/>
<path d="M141.3,666.4 L154.5,666.9 L154.5,669.1 L141.3,668.6Z" fill="#e0e0e0" filter="url(#b1)"/>
<path d="M157.9,666.5 L171.1,667.0 L171.1,669.2 L157.9,668.7Z" fill="#c4c4c4" filter="url(#b1)"/>
<path d="M174.7,666.5 L187.9,667.0 L187.9,669.2 L174.7,668.7Z" fill="#dcdcdc" filter="url(#b1)"/>
<path d="M191.3,666.5 L204.5,667.0 L204.5,669.2 L191.3,668.8Z" fill="#5f5f5f" filter="url(#b1)"/>
<path d="M207.6,666.6 L220.8,667.1 L220.8,669.3 L207.6,668.8Z" fill="#a5a5a5" filter="url(#b1)"/>
<path d="M224.0,666.6 L237.2,667.1 L237.2,669.4 L224.0,668.9Z" fill="#828282" filter="url(#b1)"/>
<path d="M240.4,666.7 L253.6,667.2 L253.6,669.4 L240.4,668.9Z" fill="#d5d5d5" filter="url(#b1)"/>
<path d="M89.5,669.2 L102.7,669.8 L102.7,672.8 L89.5,672.2Z" fill="#131313" filter="url(#b1)"/>
<path d="M106.8,669.4 L120.0,669.9 L120.0,672.9 L106.8,672.4Z" fill="#181818" filter="url(#b1)"/>
<path d="M123.8,669.5 L137.0,670.0 L137.0,673.0 L123.8,672.5Z" fill="#666666" filter="url(#b1)"/>
<path d="M141.3,669.5 L154.5,670.0 L154.5,673.0 L141.3,672.5Z" fill="#959595" filter="url(#b1)"/>
<path d="M157.9,669.6 L171.1,670.1 L171.1,673.1 L157.9,672.6Z" fill="#585858" filter="url(#b1)"/>
<path d="M174.7,669.8 L187.9,670.2 L187.9,673.2 L174.7,672.8Z" fill="#878787" filter="url(#b1)"/>
<path d="M191.3,669.9 L204.5,670.4 L204.5,673.4 L191.3,672.9Z" fill="#0c0c0c" filter="url(#b1)"/>
<path d="M207.6,670.0 L220.8,670.5 L220.8,673.5 L207.6,673.0Z" fill="#2f2f2f" filter="url(#b1)"/>
<path d="M224.0,670.0 L237.2,670.5 L237.2,673.5 L224.0,673.0Z" fill="#131313" filter="url(#b1)"/>
<path d="M240.4,670.1 L253.6,670.6 L253.6,673.6 L240.4,673.1Z" fill="#6a6a6a" filter="url(#b1)"/>
<path d="M89.5,679.4 L102.7,679.6 L102.7,681.9 L89.5,681.6Z" fill="#aaaaaa" filter="url(#b1)"/>
<path d="M106.8,679.5 L120.0,679.8 L120.0,682.0 L106.8,681.7Z" fill="#aaaaaa" filter="url(#b1)"/>
<path d="M123.8,679.6 L137.0,679.9 L137.0,682.1 L123.8,681.8Z" fill="#aaaaaa" filter="url(#b1)"/>
<path d="M141.3,679.6 L154.5,679.9 L154.5,682.1 L141.3,681.9Z" fill="#aaaaaa" filter="url(#b1)"/>
<path d="M157.9,679.8 L171.1,680.0 L171.1,682.2 L157.9,682.0Z" fill="#aaaaaa" filter="url(#b1)"/>
<path d="M174.7,679.9 L187.9,680.1 L187.9,682.4 L174.7,682.1Z" fill="#aaaaaa" filter="url(#b1)"/>
<path d="M191.3,680.0 L204.5,680.2 L204.5,682.5 L191.3,682.2Z" fill="#aaaaaa" filter="url(#b1)"/>
<path d="M207.6,680.1 L220.8,680.4 L220.8,682.6 L207.6,682.3Z" fill="#aaaaaa" filter="url(#b1)"/>
<path d="M224.0,680.1 L237.2,680.4 L237.2,682.6 L224.0,682.4Z" fill="#aaaaaa" filter="url(#b1)"/>
<path d="M240.4,680.2 L253.6,680.5 L253.6,682.8 L240.4,682.5Z" fill="#aaaaaa" filter="url(#b1)"/>
<path d="M89.5,683.4 L102.7,683.8 L102.7,686.6 L89.5,686.2Z" fill="#242424" filter="url(#b1)"/>
<path d="M106.8,683.5 L120.0,683.9 L120.0,686.7 L106.8,686.3Z" fill="#242424" filter="url(#b1)"/>
<path d="M123.8,683.6 L137.0,684.0 L137.0,686.8 L123.8,686.4Z" fill="#242424" filter="url(#b1)"/>
<path d="M141.3,683.8 L154.5,684.2 L154.5,687.0 L141.3,686.6Z" fill="#242424" filter="url(#b1)"/>
<path d="M157.9,683.9 L171.1,684.3 L171.1,687.1 L157.9,686.7Z" fill="#242424" filter="url(#b1)"/>
<path d="M174.7,684.0 L187.9,684.4 L187.9,687.2 L174.7,686.8Z" fill="#242424" filter="url(#b1)"/>
<path d="M191.3,684.1 L204.5,684.5 L204.5,687.3 L191.3,686.9Z" fill="#242424" filter="url(#b1)"/>
<path d="M207.6,684.2 L220.8,684.6 L220.8,687.4 L207.6,687.0Z" fill="#242424" filter="url(#b1)"/>
<path d="M224.0,684.4 L237.2,684.8 L237.2,687.6 L224.0,687.2Z" fill="#242424" filter="url(#b1)"/>
<path d="M240.4,684.5 L253.6,684.9 L253.6,687.7 L240.4,687.3Z" fill="#242424" filter="url(#b1)"/>
<path d="M89.5,695.5 L102.7,696.1 L102.7,699.7 L89.5,699.1Z" fill="#0c0c0c" filter="url(#b1)"/>
<path d="M106.8,695.7 L120.0,696.3 L120.0,699.9 L106.8,699.3Z" fill="#1d1d1d" filter="url(#b1)"/>
<path d="M123.8,695.9 L137.0,696.5 L137.0,700.1 L123.8,699.5Z" fill="#959595" filter="url(#b1)"/>
<path d="M141.3,696.0 L154.5,696.6 L154.5,700.2 L141.3,699.6Z" fill="#a5a5a5" filter="url(#b1)"/>
<path d="M157.9,696.2 L171.1,696.8 L171.1,700.4 L157.9,699.8Z" fill="#242424" filter="url(#b1)"/>
<path d="M174.7,696.4 L187.9,697.0 L187.9,700.6 L174.7,700.0Z" fill="#3b3b3b" filter="url(#b1)"/>
<path d="M191.3,696.6 L204.5,697.2 L204.5,700.8 L191.3,700.2Z" fill="#2f2f2f" filter="url(#b1)"/>
<path d="M207.6,696.8 L220.8,697.4 L220.8,701.0 L207.6,700.4Z" fill="#a5a5a5" filter="url(#b1)"/>
<path d="M224.0,696.9 L237.2,697.5 L237.2,701.1 L224.0,700.5Z" fill="#a5a5a5" filter="url(#b1)"/>
<path d="M240.4,697.1 L253.6,697.7 L253.6,701.3 L240.4,700.7Z" fill="#c4c4c4" filter="url(#b1)"/>
<path d="M89.5,701.3 L102.7,701.3 L102.7,703.3 L89.5,703.3Z" fill="#d5d5d5" filter="url(#b1)"/>
<path d="M106.8,701.3 L120.0,701.3 L120.0,703.3 L106.8,703.3Z" fill="#d5d5d5" filter="url(#b1)"/>
<path d="M123.8,701.3 L137.0,701.3 L137.0,703.3 L123.8,703.3Z" fill="#eaeaea" filter="url(#b1)"/>
<path d="M141.3,701.3 L154.5,701.3 L154.5,703.3 L141.3,703.3Z" fill="#ececec" filter="url(#b1)"/>
<path d="M157.9,701.3 L171.1,701.3 L171.1,703.3 L157.9,703.3Z" fill="#e5e5e5" filter="url(#b1)"/>
<path d="M174.7,701.3 L187.9,701.3 L187.9,703.3 L174.7,703.3Z" fill="#eaeaea" filter="url(#b1)"/>
<path d="M191.3,701.3 L204.5,701.3 L204.5,703.3 L191.3,703.3Z" fill="#e0e0e0" filter="url(#b1)"/>
<path d="M207.6,701.3 L220.8,701.3 L220.8,703.3 L207.6,703.3Z" fill="#ececec" filter="url(#b1)"/>
<path d="M224.0,701.3 L237.2,701.3 L237.2,703.3 L224.0,703.3Z" fill="#ececec" filter="url(#b1)"/>
<path d="M240.4,701.3 L253.6,701.3 L253.6,703.3 L240.4,703.3Z" fill="#ececec" filter="url(#b1)"/>
<path d="M89.5,710.5 L102.7,711.0 L102.7,713.8 L89.5,713.2Z" fill="#363636" filter="url(#b1)"/>
<path d="M106.8,710.6 L120.0,711.1 L120.0,713.9 L106.8,713.4Z" fill="#363636" filter="url(#b1)"/>
<path d="M123.8,710.8 L137.0,711.3 L137.0,714.1 L123.8,713.6Z" fill="#363636" filter="url(#b1)"/>
<path d="M141.3,711.0 L154.5,711.5 L154.5,714.3 L141.3,713.8Z" fill="#363636" filter="url(#b1)"/>
<path d="M157.9,711.2 L171.1,711.7 L171.1,714.5 L157.9,714.0Z" fill="#363636" filter="url(#b1)"/>
<path d="M174.7,711.4 L187.9,711.9 L187.9,714.6 L174.7,714.1Z" fill="#363636" filter="url(#b1)"/>
<path d="M191.3,711.5 L204.5,712.0 L204.5,714.8 L191.3,714.3Z" fill="#363636" filter="url(#b1)"/>
<path d="M207.6,711.7 L220.8,712.2 L220.8,715.0 L207.6,714.5Z" fill="#363636" filter="url(#b1)"/>
<path d="M224.0,711.9 L237.2,712.4 L237.2,715.2 L224.0,714.7Z" fill="#363636" filter="url(#b1)"/>
<path d="M240.4,712.1 L253.6,712.6 L253.6,715.4 L240.4,714.9Z" fill="#363636" filter="url(#b1)"/>
<path d="M89.5,714.6 L102.7,715.1 L102.7,718.1 L89.5,717.6Z" fill="#181818" filter="url(#b1)"/>
<path d="M106.8,714.9 L120.0,715.4 L120.0,718.4 L106.8,717.9Z" fill="#181818" filter="url(#b1)"/>
<path d="M123.8,715.0 L137.0,715.5 L137.0,718.5 L123.8,718.0Z" fill="#181818" filter="url(#b1)"/>
<path d="M141.3,715.2 L154.5,715.8 L154.5,718.8 L141.3,718.2Z" fill="#181818" filter="url(#b1)"/>
<path d="M157.9,715.4 L171.1,715.9 L171.1,718.9 L157.9,718.4Z" fill="#181818" filter="url(#b1)"/>
<path d="M174.7,715.6 L187.9,716.1 L187.9,719.1 L174.7,718.6Z" fill="#181818" filter="url(#b1)"/>
<path d="M191.3,715.9 L204.5,716.4 L204.5,719.4 L191.3,718.9Z" fill="#181818" filter="url(#b1)"/>
<path d="M207.6,716.0 L220.8,716.5 L220.8,719.5 L207.6,719.0Z" fill="#181818" filter="url(#b1)"/>
<path d="M224.0,716.2 L237.2,716.8 L237.2,719.8 L224.0,719.2Z" fill="#181818" filter="url(#b1)"/>
<path d="M240.4,716.4 L253.6,716.9 L253.6,719.9 L240.4,719.4Z" fill="#181818" filter="url(#b1)"/>
<rect x="88.3" y="729.4" width="15.5" height="5.6" rx="2.8" fill="#0c0c0c" filter="url(#b1)"/>
<rect x="106.9" y="730.6" width="13.0" height="3.6" rx="1.8" fill="#4e4e4e" filter="url(#b1)"/>
<rect x="123.9" y="730.7" width="13.0" height="3.6" rx="1.8" fill="#8e8e8e" filter="url(#b1)"/>
<rect x="141.4" y="730.9" width="13.0" height="3.6" rx="1.8" fill="#bdbdbd" filter="url(#b1)"/>
<rect x="158.0" y="731.0" width="13.0" height="3.6" rx="1.8" fill="#6a6a6a" filter="url(#b1)"/>
<rect x="174.8" y="731.2" width="13.0" height="3.6" rx="1.8" fill="#c4c4c4" filter="url(#b1)"/>
<rect x="190.2" y="730.4" width="15.5" height="5.6" rx="2.8" fill="#0c0c0c" filter="url(#b1)"/>
<rect x="207.7" y="731.5" width="13.0" height="3.6" rx="1.8" fill="#666666" filter="url(#b1)"/>
<rect x="222.8" y="730.7" width="15.5" height="5.6" rx="2.8" fill="#111111" filter="url(#b1)"/>
<rect x="240.5" y="731.8" width="13.0" height="3.6" rx="1.8" fill="#9e9e9e" filter="url(#b1)"/>
<path d="M89.5,745.6 L102.7,746.4 L102.7,749.0 L89.5,748.2Z" fill="#2f2f2f" filter="url(#b1)"/>
<path d="M106.8,746.0 L120.0,746.8 L120.0,749.4 L106.8,748.6Z" fill="#535353" filter="url(#b1)"/>
<path d="M123.8,746.3 L137.0,747.1 L137.0,749.7 L123.8,748.9Z" fill="#828282" filter="url(#b1)"/>
<path d="M141.3,746.7 L154.5,747.5 L154.5,750.1 L141.3,749.3Z" fill="#878787" filter="url(#b1)"/>
<path d="M157.9,747.0 L171.1,747.8 L171.1,750.4 L157.9,749.6Z" fill="#767676" filter="url(#b1)"/>
<path d="M174.7,747.4 L187.9,748.2 L187.9,750.8 L174.7,750.0Z" fill="#6a6a6a" filter="url(#b1)"/>
<path d="M191.3,747.8 L204.5,748.6 L204.5,751.2 L191.3,750.4Z" fill="#2f2f2f" filter="url(#b1)"/>
<path d="M207.6,748.1 L220.8,748.9 L220.8,751.5 L207.6,750.7Z" fill="#404040" filter="url(#b1)"/>
<path d="M224.0,748.5 L237.2,749.3 L237.2,751.9 L224.0,751.1Z" fill="#2f2f2f" filter="url(#b1)"/>
<path d="M240.4,748.8 L253.6,749.6 L253.6,752.2 L240.4,751.4Z" fill="#585858" filter="url(#b1)"/>
<path d="M89.5,760.3 L102.7,760.6 L102.7,763.5 L89.5,763.2Z" fill="#242424" filter="url(#b1)"/>
<path d="M106.8,760.4 L120.0,760.7 L120.0,763.6 L106.8,763.3Z" fill="#242424" filter="url(#b1)"/>
<path d="M123.8,760.5 L137.0,760.8 L137.0,763.7 L123.8,763.4Z" fill="#242424" filter="url(#b1)"/>
<path d="M141.3,760.6 L154.5,760.9 L154.5,763.8 L141.3,763.5Z" fill="#242424" filter="url(#b1)"/>
<path d="M157.9,760.7 L171.1,761.0 L171.1,763.9 L157.9,763.6Z" fill="#242424" filter="url(#b1)"/>
<path d="M174.7,760.8 L187.9,761.1 L187.9,764.0 L174.7,763.7Z" fill="#242424" filter="url(#b1)"/>
<path d="M191.3,760.9 L204.5,761.2 L204.5,764.1 L191.3,763.8Z" fill="#242424" filter="url(#b1)"/>
<path d="M207.6,761.0 L220.8,761.3 L220.8,764.2 L207.6,763.9Z" fill="#242424" filter="url(#b1)"/>
<path d="M224.0,761.1 L237.2,761.4 L237.2,764.3 L224.0,764.0Z" fill="#242424" filter="url(#b1)"/>
<path d="M240.4,761.2 L253.6,761.5 L253.6,764.4 L240.4,764.1Z" fill="#242424" filter="url(#b1)"/>
<path d="M89.5,772.4 L102.7,772.6 L102.7,775.6 L89.5,775.4Z" fill="#1d1d1d" filter="url(#b1)"/>
<path d="M106.8,772.5 L120.0,772.8 L120.0,775.8 L106.8,775.5Z" fill="#1d1d1d" filter="url(#b1)"/>
<path d="M123.8,772.6 L137.0,772.9 L137.0,775.9 L123.8,775.6Z" fill="#1d1d1d" filter="url(#b1)"/>
<path d="M141.3,772.7 L154.5,773.0 L154.5,776.0 L141.3,775.7Z" fill="#1d1d1d" filter="url(#b1)"/>
<path d="M157.9,772.9 L171.1,773.2 L171.1,776.2 L157.9,775.9Z" fill="#1d1d1d" filter="url(#b1)"/>
<path d="M174.7,773.0 L187.9,773.3 L187.9,776.3 L174.7,776.0Z" fill="#1d1d1d" filter="url(#b1)"/>
<path d="M191.3,773.1 L204.5,773.4 L204.5,776.4 L191.3,776.1Z" fill="#1d1d1d" filter="url(#b1)"/>
<path d="M207.6,773.3 L220.8,773.6 L220.8,776.6 L207.6,776.3Z" fill="#1d1d1d" filter="url(#b1)"/>
<path d="M224.0,773.4 L237.2,773.7 L237.2,776.7 L224.0,776.4Z" fill="#1d1d1d" filter="url(#b1)"/>
<path d="M240.4,773.5 L253.6,773.8 L253.6,776.8 L240.4,776.5Z" fill="#1d1d1d" filter="url(#b1)"/>
<line x1="87.3" y1="580.2" x2="256.2" y2="580.2" stroke="#b0b0b0" stroke-width="0.8"/>
<line x1="87.3" y1="595.9" x2="256.2" y2="595.9" stroke="#a8a8a8" stroke-width="1.6"/>
<line x1="87.7" y1="579.9" x2="87.7" y2="596.6" stroke="#7a7a7a" stroke-width="1"/>
<line x1="255.6" y1="579.9" x2="255.6" y2="596.6" stroke="#9a9a9a" stroke-width="1.2"/>
<line x1="87.3" y1="598.7" x2="256.2" y2="598.7" stroke="#b0b0b0" stroke-width="0.8"/>
<line x1="87.3" y1="609.4" x2="256.2" y2="609.4" stroke="#a8a8a8" stroke-width="1.6"/>
<line x1="87.7" y1="598.4" x2="87.7" y2="610.1" stroke="#7a7a7a" stroke-width="1"/>
<line x1="255.6" y1="598.4" x2="255.6" y2="610.1" stroke="#9a9a9a" stroke-width="1.2"/>
<line x1="87.3" y1="612.3" x2="256.2" y2="612.3" stroke="#b0b0b0" stroke-width="0.8"/>
<line x1="87.3" y1="622.4" x2="256.2" y2="622.4" stroke="#a8a8a8" stroke-width="1.6"/>
<line x1="87.7" y1="612.0" x2="87.7" y2="623.1" stroke="#7a7a7a" stroke-width="1"/>
<line x1="255.6" y1="612.0" x2="255.6" y2="623.1" stroke="#9a9a9a" stroke-width="1.2"/>
<line x1="87.3" y1="625.2" x2="256.2" y2="625.2" stroke="#b0b0b0" stroke-width="0.8"/>
<line x1="87.3" y1="642.6" x2="256.2" y2="642.6" stroke="#a8a8a8" stroke-width="1.6"/>
<line x1="87.7" y1="624.9" x2="87.7" y2="643.3" stroke="#7a7a7a" stroke-width="1"/>
<line x1="255.6" y1="624.9" x2="255.6" y2="643.3" stroke="#9a9a9a" stroke-width="1.2"/>
<line x1="87.3" y1="645.0" x2="256.2" y2="645.0" stroke="#b0b0b0" stroke-width="0.8"/>
<line x1="87.3" y1="661.9" x2="256.2" y2="661.9" stroke="#a8a8a8" stroke-width="1.6"/>
<line x1="87.7" y1="644.7" x2="87.7" y2="662.6" stroke="#7a7a7a" stroke-width="1"/>
<line x1="255.6" y1="644.7" x2="255.6" y2="662.6" stroke="#9a9a9a" stroke-width="1.2"/>
<line x1="87.3" y1="664.6" x2="256.2" y2="664.6" stroke="#b0b0b0" stroke-width="0.8"/>
<line x1="87.3" y1="675.8" x2="256.2" y2="675.8" stroke="#a8a8a8" stroke-width="1.6"/>
<line x1="87.7" y1="664.3" x2="87.7" y2="676.5" stroke="#7a7a7a" stroke-width="1"/>
<line x1="255.6" y1="664.3" x2="255.6" y2="676.5" stroke="#9a9a9a" stroke-width="1.2"/>
<line x1="87.3" y1="677.9" x2="256.2" y2="677.9" stroke="#b0b0b0" stroke-width="0.8"/>
<line x1="87.3" y1="688.0" x2="256.2" y2="688.0" stroke="#a8a8a8" stroke-width="1.6"/>
<line x1="87.7" y1="677.6" x2="87.7" y2="688.7" stroke="#7a7a7a" stroke-width="1"/>
<line x1="255.6" y1="677.6" x2="255.6" y2="688.7" stroke="#9a9a9a" stroke-width="1.2"/>
<line x1="87.3" y1="691.2" x2="256.2" y2="691.2" stroke="#b0b0b0" stroke-width="0.8"/>
<line x1="87.3" y1="703.9" x2="256.2" y2="703.9" stroke="#a8a8a8" stroke-width="1.6"/>
<line x1="87.7" y1="690.9" x2="87.7" y2="704.6" stroke="#7a7a7a" stroke-width="1"/>
<line x1="255.6" y1="690.9" x2="255.6" y2="704.6" stroke="#9a9a9a" stroke-width="1.2"/>
<line x1="87.3" y1="707.4" x2="256.2" y2="707.4" stroke="#b0b0b0" stroke-width="0.8"/>
<line x1="87.3" y1="722.3" x2="256.2" y2="722.3" stroke="#a8a8a8" stroke-width="1.6"/>
<line x1="87.7" y1="707.1" x2="87.7" y2="723.0" stroke="#7a7a7a" stroke-width="1"/>
<line x1="255.6" y1="707.1" x2="255.6" y2="723.0" stroke="#9a9a9a" stroke-width="1.2"/>
<line x1="87.3" y1="725.2" x2="256.2" y2="725.2" stroke="#b0b0b0" stroke-width="0.8"/>
<line x1="87.3" y1="739.0" x2="256.2" y2="739.0" stroke="#a8a8a8" stroke-width="1.6"/>
<line x1="87.7" y1="724.9" x2="87.7" y2="739.7" stroke="#7a7a7a" stroke-width="1"/>
<line x1="255.6" y1="724.9" x2="255.6" y2="739.7" stroke="#9a9a9a" stroke-width="1.2"/>
<line x1="87.3" y1="741.5" x2="256.2" y2="741.5" stroke="#b0b0b0" stroke-width="0.8"/>
<line x1="87.3" y1="753.5" x2="256.2" y2="753.5" stroke="#a8a8a8" stroke-width="1.6"/>
<line x1="87.7" y1="741.2" x2="87.7" y2="754.2" stroke="#7a7a7a" stroke-width="1"/>
<line x1="255.6" y1="741.2" x2="255.6" y2="754.2" stroke="#9a9a9a" stroke-width="1.2"/>
<line x1="87.3" y1="756.5" x2="256.2" y2="756.5" stroke="#b0b0b0" stroke-width="0.8"/>
<line x1="87.3" y1="766.5" x2="256.2" y2="766.5" stroke="#a8a8a8" stroke-width="1.6"/>
<line x1="87.7" y1="756.2" x2="87.7" y2="767.2" stroke="#7a7a7a" stroke-width="1"/>
<line x1="255.6" y1="756.2" x2="255.6" y2="767.2" stroke="#9a9a9a" stroke-width="1.2"/>
<line x1="87.3" y1="769.5" x2="256.2" y2="769.5" stroke="#b0b0b0" stroke-width="0.8"/>
<line x1="87.3" y1="780.7" x2="256.2" y2="780.7" stroke="#a8a8a8" stroke-width="1.6"/>
<line x1="87.7" y1="769.2" x2="87.7" y2="781.4" stroke="#7a7a7a" stroke-width="1"/>
<line x1="255.6" y1="769.2" x2="255.6" y2="781.4" stroke="#9a9a9a" stroke-width="1.2"/>
<rect x="0" y="0" width="520" height="1.15" fill="#000"/><rect x="0" y="0" width="1.0" height="789" fill="#000"/><rect x="518.9" y="0" width="1.1" height="789" fill="#000"/><rect x="0" y="787.6" width="520" height="1.4" fill="#000"/>
</svg>
</body></html>
